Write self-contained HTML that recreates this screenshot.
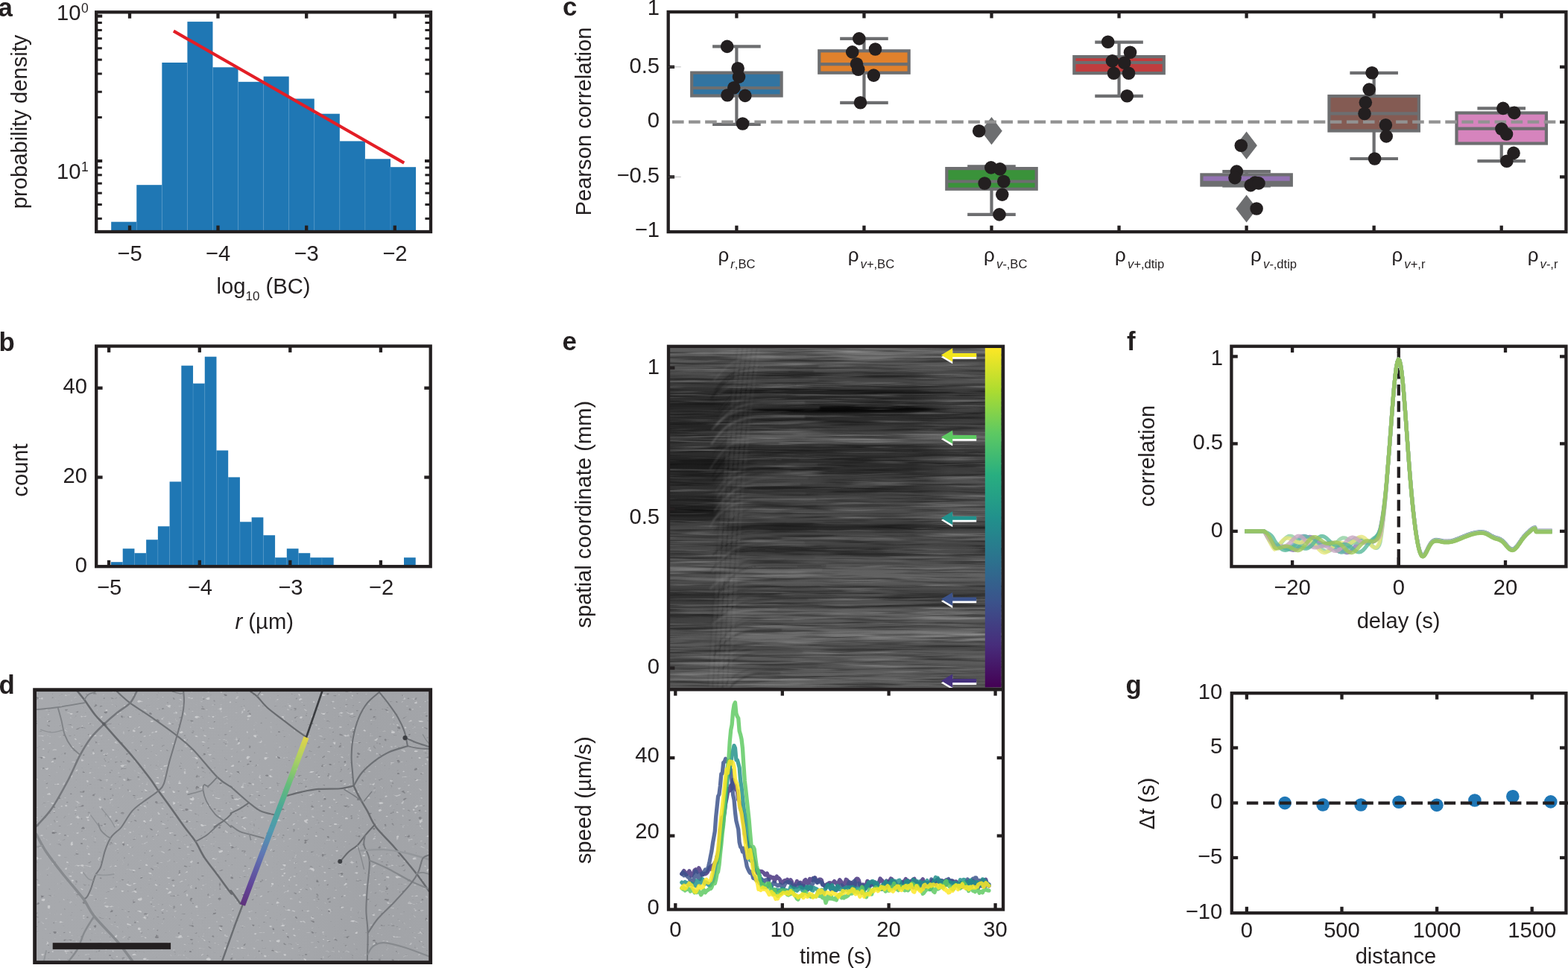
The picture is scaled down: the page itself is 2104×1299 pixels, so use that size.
<!DOCTYPE html>
<html lang="en"><head><meta charset="utf-8"><title>Figure</title>
<style>
html,body{margin:0;padding:0;background:#fff;}
body{width:2104px;height:1299px;overflow:hidden;}
svg{display:block;}
text{font-family:"Liberation Sans", sans-serif;fill:#231f20;}
</style></head>
<body>
<svg width="2104" height="1299" viewBox="0 0 2104 1299">
<defs>
<linearGradient id="dbg" gradientUnits="userSpaceOnUse" x1="50" y1="0" x2="576" y2="0">
<stop offset="0" stop-color="#a7a9ad"/><stop offset="0.6" stop-color="#a6a8ac"/><stop offset="0.85" stop-color="#a1a3a7"/><stop offset="1" stop-color="#a3a5a9"/></linearGradient>
<linearGradient id="vir" x1="0" y1="1" x2="0" y2="0">
<stop offset="0" stop-color="#440154"/><stop offset="0.125" stop-color="#472d7b"/><stop offset="0.25" stop-color="#3b528b"/>
<stop offset="0.375" stop-color="#2c728e"/><stop offset="0.5" stop-color="#21918c"/><stop offset="0.625" stop-color="#28ae80"/>
<stop offset="0.75" stop-color="#5ec962"/><stop offset="0.875" stop-color="#addc30"/><stop offset="1" stop-color="#fde725"/></linearGradient>
<linearGradient id="vird" gradientUnits="userSpaceOnUse" x1="325.5" y1="1214.5" x2="411" y2="989.5">
<stop offset="0" stop-color="#5b2a7a"/><stop offset="0.12" stop-color="#5c3f98"/><stop offset="0.3" stop-color="#5a72b4"/><stop offset="0.45" stop-color="#4a9ab0"/>
<stop offset="0.58" stop-color="#45a896"/><stop offset="0.72" stop-color="#62bf78"/><stop offset="0.86" stop-color="#a8d360"/><stop offset="1" stop-color="#e6d840"/></linearGradient>
<clipPath id="dclip"><rect x="46.6" y="925.7" width="531.1" height="365.9"/></clipPath>
<filter id="dsoft" x="-0.1" y="-0.1" width="1.2" height="1.2"><feGaussianBlur stdDeviation="0.7"/></filter>
<filter id="dsoft2" x="-0.1" y="-0.1" width="1.2" height="1.2"><feGaussianBlur stdDeviation="1.1"/></filter>
<filter id="dspk" x="0" y="0" width="1" height="1" color-interpolation-filters="sRGB">
<feTurbulence type="fractalNoise" baseFrequency="0.13 0.2" numOctaves="2" seed="23" result="n"/>
<feColorMatrix in="n" type="matrix" values="0 0 0 0 1  0 0 0 0 1  0 0 0 0 1  0 9 0 0 -6.3" result="lt"/>
<feColorMatrix in="n" type="matrix" values="0 0 0 0 0.3  0 0 0 0 0.3  0 0 0 0 0.32  0 0 -9 0 2.6" result="dk"/>
<feMerge><feMergeNode in="lt"/><feMergeNode in="dk"/></feMerge>
</filter>
<linearGradient id="kbgL" gradientUnits="userSpaceOnUse" x1="0" y1="467" x2="0" y2="922"><stop offset="0.0000" stop-color="#5c5c5c"/><stop offset="0.0286" stop-color="#5a5a5a"/><stop offset="0.0637" stop-color="#525252"/><stop offset="0.0835" stop-color="#484848"/><stop offset="0.1055" stop-color="#404040"/><stop offset="0.1209" stop-color="#303030"/><stop offset="0.1495" stop-color="#2c2c2c"/><stop offset="0.1714" stop-color="#222222"/><stop offset="0.1868" stop-color="#303030"/><stop offset="0.2044" stop-color="#2e2e2e"/><stop offset="0.2264" stop-color="#242424"/><stop offset="0.2440" stop-color="#262626"/><stop offset="0.2571" stop-color="#3a3a3a"/><stop offset="0.2747" stop-color="#3c3c3c"/><stop offset="0.2923" stop-color="#303030"/><stop offset="0.3143" stop-color="#2c2c2c"/><stop offset="0.3363" stop-color="#1e1e1e"/><stop offset="0.3516" stop-color="#1c1c1c"/><stop offset="0.3670" stop-color="#2c2c2c"/><stop offset="0.3912" stop-color="#2c2c2c"/><stop offset="0.4132" stop-color="#303030"/><stop offset="0.4352" stop-color="#2c2c2c"/><stop offset="0.4571" stop-color="#2a2a2a"/><stop offset="0.4747" stop-color="#1e1e1e"/><stop offset="0.4945" stop-color="#1e1e1e"/><stop offset="0.5121" stop-color="#3c3c3c"/><stop offset="0.5341" stop-color="#484848"/><stop offset="0.5670" stop-color="#4a4a4a"/><stop offset="0.6000" stop-color="#464646"/><stop offset="0.6330" stop-color="#4c4c4c"/><stop offset="0.6505" stop-color="#707070"/><stop offset="0.6615" stop-color="#505050"/><stop offset="0.6879" stop-color="#505050"/><stop offset="0.7143" stop-color="#3a3a3a"/><stop offset="0.7319" stop-color="#303030"/><stop offset="0.7538" stop-color="#3c3c3c"/><stop offset="0.7868" stop-color="#3c3c3c"/><stop offset="0.8154" stop-color="#444444"/><stop offset="0.8418" stop-color="#525252"/><stop offset="0.8747" stop-color="#585858"/><stop offset="0.9077" stop-color="#505050"/><stop offset="0.9407" stop-color="#545454"/><stop offset="0.9736" stop-color="#5a5a5a"/><stop offset="1.0000" stop-color="#585858"/></linearGradient>
<linearGradient id="kbg" gradientUnits="userSpaceOnUse" x1="0" y1="467" x2="0" y2="922"><stop offset="0.0000" stop-color="#666666"/><stop offset="0.0154" stop-color="#707070"/><stop offset="0.0198" stop-color="#5a5a5a"/><stop offset="0.0286" stop-color="#707070"/><stop offset="0.0374" stop-color="#3a3a3a"/><stop offset="0.0440" stop-color="#585858"/><stop offset="0.0549" stop-color="#545454"/><stop offset="0.0637" stop-color="#565656"/><stop offset="0.0725" stop-color="#424242"/><stop offset="0.0835" stop-color="#3a3a3a"/><stop offset="0.0945" stop-color="#444444"/><stop offset="0.1077" stop-color="#464646"/><stop offset="0.1187" stop-color="#3a3a3a"/><stop offset="0.1253" stop-color="#222222"/><stop offset="0.1319" stop-color="#222222"/><stop offset="0.1407" stop-color="#323232"/><stop offset="0.1484" stop-color="#262626"/><stop offset="0.1549" stop-color="#464646"/><stop offset="0.1604" stop-color="#282828"/><stop offset="0.1692" stop-color="#343434"/><stop offset="0.1802" stop-color="#222222"/><stop offset="0.1890" stop-color="#262626"/><stop offset="0.2000" stop-color="#2c2c2c"/><stop offset="0.2154" stop-color="#2e2e2e"/><stop offset="0.2308" stop-color="#383838"/><stop offset="0.2484" stop-color="#404040"/><stop offset="0.2571" stop-color="#585858"/><stop offset="0.2703" stop-color="#5e5e5e"/><stop offset="0.2791" stop-color="#545454"/><stop offset="0.2879" stop-color="#303030"/><stop offset="0.3011" stop-color="#2c2c2c"/><stop offset="0.3121" stop-color="#353535"/><stop offset="0.3231" stop-color="#3a3a3a"/><stop offset="0.3363" stop-color="#2c2c2c"/><stop offset="0.3538" stop-color="#2c2c2c"/><stop offset="0.3714" stop-color="#303030"/><stop offset="0.3802" stop-color="#404040"/><stop offset="0.3978" stop-color="#444444"/><stop offset="0.4110" stop-color="#343434"/><stop offset="0.4242" stop-color="#323232"/><stop offset="0.4374" stop-color="#444444"/><stop offset="0.4593" stop-color="#464646"/><stop offset="0.4813" stop-color="#4c4c4c"/><stop offset="0.5033" stop-color="#484848"/><stop offset="0.5165" stop-color="#3c3c3c"/><stop offset="0.5297" stop-color="#242424"/><stop offset="0.5385" stop-color="#363636"/><stop offset="0.5473" stop-color="#444444"/><stop offset="0.5648" stop-color="#505050"/><stop offset="0.5824" stop-color="#404040"/><stop offset="0.5956" stop-color="#303030"/><stop offset="0.6044" stop-color="#3c3c3c"/><stop offset="0.6176" stop-color="#505050"/><stop offset="0.6396" stop-color="#525252"/><stop offset="0.6571" stop-color="#606060"/><stop offset="0.6791" stop-color="#626262"/><stop offset="0.7011" stop-color="#525252"/><stop offset="0.7187" stop-color="#444444"/><stop offset="0.7275" stop-color="#3c3c3c"/><stop offset="0.7407" stop-color="#505050"/><stop offset="0.7560" stop-color="#505050"/><stop offset="0.7626" stop-color="#3c3c3c"/><stop offset="0.7714" stop-color="#606060"/><stop offset="0.7934" stop-color="#646464"/><stop offset="0.8110" stop-color="#545454"/><stop offset="0.8242" stop-color="#525252"/><stop offset="0.8374" stop-color="#6a6a6a"/><stop offset="0.8549" stop-color="#6c6c6c"/><stop offset="0.8681" stop-color="#5c5c5c"/><stop offset="0.8835" stop-color="#444444"/><stop offset="0.8945" stop-color="#585858"/><stop offset="0.9121" stop-color="#5e5e5e"/><stop offset="0.9297" stop-color="#5a5a5a"/><stop offset="0.9429" stop-color="#525252"/><stop offset="0.9560" stop-color="#5e5e5e"/><stop offset="0.9780" stop-color="#626262"/><stop offset="1.0000" stop-color="#606060"/></linearGradient>
<filter id="streak" x="0" y="0" width="1" height="1" color-interpolation-filters="sRGB">
<feTurbulence type="fractalNoise" baseFrequency="0.009 0.28" numOctaves="3" seed="7" result="n"/>
<feColorMatrix in="n" type="matrix" values="0 0 0 0 0  0 0 0 0 0  0 0 0 0 0  3.4 0 0 0 -1.52" result="a"/>
<feFlood flood-color="#000"/><feComposite operator="in" in2="a" result="dark"/>
<feColorMatrix in="n" type="matrix" values="0 0 0 0 1  0 0 0 0 1  0 0 0 0 1  0 -1.9 0 0 0.87" result="lt"/>
<feMerge><feMergeNode in="dark"/><feMergeNode in="lt"/></feMerge>
</filter>
<linearGradient id="kmg" gradientUnits="userSpaceOnUse" x1="897" y1="0" x2="982" y2="0"><stop offset="0" stop-color="#fff"/><stop offset="0.7" stop-color="#fff"/><stop offset="1" stop-color="#000"/></linearGradient>
<linearGradient id="krg" gradientUnits="userSpaceOnUse" x1="1225" y1="0" x2="1322" y2="0"><stop offset="0" stop-color="#fff" stop-opacity="0"/><stop offset="0.5" stop-color="#fff" stop-opacity="0.07"/><stop offset="1" stop-color="#fff" stop-opacity="0.07"/></linearGradient>
<mask id="kmask" maskUnits="userSpaceOnUse" x="897" y="400" width="90" height="560"><rect x="897" y="400" width="90" height="560" fill="url(#kmg)"/></mask>
<clipPath id="kclip"><rect x="897" y="465" width="449" height="460"/></clipPath>
<filter id="kblur" x="-0.05" y="-2" width="1.1" height="5"><feGaussianBlur stdDeviation="6 1.6"/></filter>
<filter id="kblur2" x="-0.2" y="-0.2" width="1.4" height="1.4"><feGaussianBlur stdDeviation="0.9"/></filter>
</defs>
<rect width="2104" height="1299" fill="#fff"/>
<rect x="149.2" y="297.7" width="34.07" height="13.3" fill="#1f77b4" />
<rect x="183.27" y="248.2" width="34.07" height="62.8" fill="#1f77b4" />
<rect x="217.34" y="84" width="34.07" height="227" fill="#1f77b4" />
<rect x="251.41" y="29.1" width="34.07" height="281.9" fill="#1f77b4" />
<rect x="285.48" y="90.3" width="34.07" height="220.7" fill="#1f77b4" />
<rect x="319.55" y="109.8" width="34.07" height="201.2" fill="#1f77b4" />
<rect x="353.62" y="102.6" width="34.07" height="208.4" fill="#1f77b4" />
<rect x="387.69" y="132.5" width="34.07" height="178.5" fill="#1f77b4" />
<rect x="421.76" y="152.7" width="34.07" height="158.3" fill="#1f77b4" />
<rect x="455.83" y="189.4" width="34.07" height="121.6" fill="#1f77b4" />
<rect x="489.9" y="213.3" width="34.07" height="97.7" fill="#1f77b4" />
<rect x="523.97" y="224.2" width="34.07" height="86.8" fill="#1f77b4" />
<line x1="183.27" y1="297.7" x2="183.27" y2="311" stroke="#4f94c6" stroke-width="0.6" />
<line x1="217.34" y1="248.2" x2="217.34" y2="311" stroke="#4f94c6" stroke-width="0.6" />
<line x1="251.41" y1="84" x2="251.41" y2="311" stroke="#4f94c6" stroke-width="0.6" />
<line x1="285.48" y1="90.3" x2="285.48" y2="311" stroke="#4f94c6" stroke-width="0.6" />
<line x1="319.55" y1="109.8" x2="319.55" y2="311" stroke="#4f94c6" stroke-width="0.6" />
<line x1="353.62" y1="109.8" x2="353.62" y2="311" stroke="#4f94c6" stroke-width="0.6" />
<line x1="387.69" y1="132.5" x2="387.69" y2="311" stroke="#4f94c6" stroke-width="0.6" />
<line x1="421.76" y1="152.7" x2="421.76" y2="311" stroke="#4f94c6" stroke-width="0.6" />
<line x1="455.83" y1="189.4" x2="455.83" y2="311" stroke="#4f94c6" stroke-width="0.6" />
<line x1="489.9" y1="213.3" x2="489.9" y2="311" stroke="#4f94c6" stroke-width="0.6" />
<line x1="523.97" y1="224.2" x2="523.97" y2="311" stroke="#4f94c6" stroke-width="0.6" />
<line x1="232.9" y1="41.6" x2="542.2" y2="218.6" stroke="#e31e26" stroke-width="4.2" />
<rect x="129.2" y="16.3" width="448.8" height="294.7" fill="none" stroke="#231f20" stroke-width="4.3"/>
<line x1="174" y1="311" x2="174" y2="302.6" stroke="#231f20" stroke-width="4.3" />
<line x1="174" y1="16.3" x2="174" y2="24.7" stroke="#231f20" stroke-width="4.3" />
<line x1="292.5" y1="311" x2="292.5" y2="302.6" stroke="#231f20" stroke-width="4.3" />
<line x1="292.5" y1="16.3" x2="292.5" y2="24.7" stroke="#231f20" stroke-width="4.3" />
<line x1="411.2" y1="311" x2="411.2" y2="302.6" stroke="#231f20" stroke-width="4.3" />
<line x1="411.2" y1="16.3" x2="411.2" y2="24.7" stroke="#231f20" stroke-width="4.3" />
<line x1="529.8" y1="311" x2="529.8" y2="302.6" stroke="#231f20" stroke-width="4.3" />
<line x1="529.8" y1="16.3" x2="529.8" y2="24.7" stroke="#231f20" stroke-width="4.3" />
<line x1="129.2" y1="157.48" x2="136.8" y2="157.48" stroke="#231f20" stroke-width="3" />
<line x1="578" y1="157.48" x2="570.4" y2="157.48" stroke="#231f20" stroke-width="3" />
<line x1="129.2" y1="123.25" x2="136.8" y2="123.25" stroke="#231f20" stroke-width="3" />
<line x1="578" y1="123.25" x2="570.4" y2="123.25" stroke="#231f20" stroke-width="3" />
<line x1="129.2" y1="98.96" x2="136.8" y2="98.96" stroke="#231f20" stroke-width="3" />
<line x1="578" y1="98.96" x2="570.4" y2="98.96" stroke="#231f20" stroke-width="3" />
<line x1="129.2" y1="80.12" x2="136.8" y2="80.12" stroke="#231f20" stroke-width="3" />
<line x1="578" y1="80.12" x2="570.4" y2="80.12" stroke="#231f20" stroke-width="3" />
<line x1="129.2" y1="64.73" x2="136.8" y2="64.73" stroke="#231f20" stroke-width="3" />
<line x1="578" y1="64.73" x2="570.4" y2="64.73" stroke="#231f20" stroke-width="3" />
<line x1="129.2" y1="51.71" x2="136.8" y2="51.71" stroke="#231f20" stroke-width="3" />
<line x1="578" y1="51.71" x2="570.4" y2="51.71" stroke="#231f20" stroke-width="3" />
<line x1="129.2" y1="40.44" x2="136.8" y2="40.44" stroke="#231f20" stroke-width="3" />
<line x1="578" y1="40.44" x2="570.4" y2="40.44" stroke="#231f20" stroke-width="3" />
<line x1="129.2" y1="30.5" x2="136.8" y2="30.5" stroke="#231f20" stroke-width="3" />
<line x1="578" y1="30.5" x2="570.4" y2="30.5" stroke="#231f20" stroke-width="3" />
<line x1="129.2" y1="293.36" x2="136.8" y2="293.36" stroke="#231f20" stroke-width="3" />
<line x1="578" y1="293.36" x2="570.4" y2="293.36" stroke="#231f20" stroke-width="3" />
<line x1="129.2" y1="274.52" x2="136.8" y2="274.52" stroke="#231f20" stroke-width="3" />
<line x1="578" y1="274.52" x2="570.4" y2="274.52" stroke="#231f20" stroke-width="3" />
<line x1="129.2" y1="259.13" x2="136.8" y2="259.13" stroke="#231f20" stroke-width="3" />
<line x1="578" y1="259.13" x2="570.4" y2="259.13" stroke="#231f20" stroke-width="3" />
<line x1="129.2" y1="246.11" x2="136.8" y2="246.11" stroke="#231f20" stroke-width="3" />
<line x1="578" y1="246.11" x2="570.4" y2="246.11" stroke="#231f20" stroke-width="3" />
<line x1="129.2" y1="234.84" x2="136.8" y2="234.84" stroke="#231f20" stroke-width="3" />
<line x1="578" y1="234.84" x2="570.4" y2="234.84" stroke="#231f20" stroke-width="3" />
<line x1="129.2" y1="224.9" x2="136.8" y2="224.9" stroke="#231f20" stroke-width="3" />
<line x1="578" y1="224.9" x2="570.4" y2="224.9" stroke="#231f20" stroke-width="3" />
<line x1="129.2" y1="21.6" x2="137.2" y2="21.6" stroke="#231f20" stroke-width="4" />
<line x1="578" y1="21.6" x2="570" y2="21.6" stroke="#231f20" stroke-width="4" />
<line x1="129.2" y1="216" x2="137.2" y2="216" stroke="#231f20" stroke-width="4" />
<line x1="578" y1="216" x2="570" y2="216" stroke="#231f20" stroke-width="4" />
<text x="-2.5" y="21.5" font-size="34.8" text-anchor="start" font-weight="bold" font-style="normal" >a</text>
<text x="76" y="26.8" font-size="29.2" text-anchor="start" font-weight="normal" font-style="normal" >10<tspan font-size="17.5" dy="-9.7" dx="0.6">0</tspan></text>
<text x="76" y="240.4" font-size="29.2" text-anchor="start" font-weight="normal" font-style="normal" >10<tspan font-size="17.5" dy="-10.4" dx="0.6">1</tspan></text>
<text x="174" y="349.6" font-size="29.2" text-anchor="middle" font-weight="normal" font-style="normal" >−5</text>
<text x="292.5" y="349.6" font-size="29.2" text-anchor="middle" font-weight="normal" font-style="normal" >−4</text>
<text x="411.2" y="349.6" font-size="29.2" text-anchor="middle" font-weight="normal" font-style="normal" >−3</text>
<text x="529.8" y="349.6" font-size="29.2" text-anchor="middle" font-weight="normal" font-style="normal" >−2</text>
<text x="290.6" y="394.4" font-size="29.2" text-anchor="start" font-weight="normal" font-style="normal" >log<tspan font-size="17" dy="8.6">10</tspan><tspan dy="-8.6"> (BC)</tspan></text>
<text x="36.3" y="163.4" font-size="29.2" text-anchor="middle" font-weight="normal" font-style="normal" transform="rotate(-90 36.3 163.4)" >probability density</text>
<rect x="149" y="754.21" width="15.72" height="5.99" fill="#1f77b4" />
<rect x="164.72" y="736.24" width="15.72" height="23.96" fill="#1f77b4" />
<rect x="180.44" y="742.23" width="15.72" height="17.97" fill="#1f77b4" />
<rect x="196.16" y="724.26" width="15.72" height="35.94" fill="#1f77b4" />
<rect x="211.88" y="706.29" width="15.72" height="53.91" fill="#1f77b4" />
<rect x="227.6" y="646.39" width="15.72" height="113.81" fill="#1f77b4" />
<rect x="243.32" y="490.65" width="15.72" height="269.55" fill="#1f77b4" />
<rect x="259.04" y="514.61" width="15.72" height="245.59" fill="#1f77b4" />
<rect x="274.76" y="478.67" width="15.72" height="281.53" fill="#1f77b4" />
<rect x="290.48" y="604.46" width="15.72" height="155.74" fill="#1f77b4" />
<rect x="306.2" y="640.4" width="15.72" height="119.8" fill="#1f77b4" />
<rect x="321.92" y="700.3" width="15.72" height="59.9" fill="#1f77b4" />
<rect x="337.64" y="694.31" width="15.72" height="65.89" fill="#1f77b4" />
<rect x="353.36" y="718.27" width="15.72" height="41.93" fill="#1f77b4" />
<rect x="369.08" y="748.22" width="15.72" height="11.98" fill="#1f77b4" />
<rect x="384.8" y="736.24" width="15.72" height="23.96" fill="#1f77b4" />
<rect x="400.52" y="742.23" width="15.72" height="17.97" fill="#1f77b4" />
<rect x="416.24" y="748.22" width="15.72" height="11.98" fill="#1f77b4" />
<rect x="431.96" y="748.22" width="15.72" height="11.98" fill="#1f77b4" />
<rect x="542" y="748.22" width="15.72" height="11.98" fill="#1f77b4" />
<line x1="164.72" y1="754.21" x2="164.72" y2="760.2" stroke="#4f94c6" stroke-width="0.6" />
<line x1="180.44" y1="742.23" x2="180.44" y2="760.2" stroke="#4f94c6" stroke-width="0.6" />
<line x1="196.16" y1="742.23" x2="196.16" y2="760.2" stroke="#4f94c6" stroke-width="0.6" />
<line x1="211.88" y1="724.26" x2="211.88" y2="760.2" stroke="#4f94c6" stroke-width="0.6" />
<line x1="227.6" y1="706.29" x2="227.6" y2="760.2" stroke="#4f94c6" stroke-width="0.6" />
<line x1="243.32" y1="646.39" x2="243.32" y2="760.2" stroke="#4f94c6" stroke-width="0.6" />
<line x1="259.04" y1="514.61" x2="259.04" y2="760.2" stroke="#4f94c6" stroke-width="0.6" />
<line x1="274.76" y1="514.61" x2="274.76" y2="760.2" stroke="#4f94c6" stroke-width="0.6" />
<line x1="290.48" y1="604.46" x2="290.48" y2="760.2" stroke="#4f94c6" stroke-width="0.6" />
<line x1="306.2" y1="640.4" x2="306.2" y2="760.2" stroke="#4f94c6" stroke-width="0.6" />
<line x1="321.92" y1="700.3" x2="321.92" y2="760.2" stroke="#4f94c6" stroke-width="0.6" />
<line x1="337.64" y1="700.3" x2="337.64" y2="760.2" stroke="#4f94c6" stroke-width="0.6" />
<line x1="353.36" y1="718.27" x2="353.36" y2="760.2" stroke="#4f94c6" stroke-width="0.6" />
<line x1="369.08" y1="748.22" x2="369.08" y2="760.2" stroke="#4f94c6" stroke-width="0.6" />
<line x1="384.8" y1="748.22" x2="384.8" y2="760.2" stroke="#4f94c6" stroke-width="0.6" />
<line x1="400.52" y1="742.23" x2="400.52" y2="760.2" stroke="#4f94c6" stroke-width="0.6" />
<line x1="416.24" y1="748.22" x2="416.24" y2="760.2" stroke="#4f94c6" stroke-width="0.6" />
<line x1="431.96" y1="748.22" x2="431.96" y2="760.2" stroke="#4f94c6" stroke-width="0.6" />
<rect x="129.2" y="464.5" width="448.5" height="295.7" fill="none" stroke="#231f20" stroke-width="4.3"/>
<line x1="146.1" y1="760.2" x2="146.1" y2="751.8" stroke="#231f20" stroke-width="4.3" />
<line x1="146.1" y1="464.5" x2="146.1" y2="472.9" stroke="#231f20" stroke-width="4.3" />
<line x1="267.8" y1="760.2" x2="267.8" y2="751.8" stroke="#231f20" stroke-width="4.3" />
<line x1="267.8" y1="464.5" x2="267.8" y2="472.9" stroke="#231f20" stroke-width="4.3" />
<line x1="389.3" y1="760.2" x2="389.3" y2="751.8" stroke="#231f20" stroke-width="4.3" />
<line x1="389.3" y1="464.5" x2="389.3" y2="472.9" stroke="#231f20" stroke-width="4.3" />
<line x1="510.9" y1="760.2" x2="510.9" y2="751.8" stroke="#231f20" stroke-width="4.3" />
<line x1="510.9" y1="464.5" x2="510.9" y2="472.9" stroke="#231f20" stroke-width="4.3" />
<line x1="129.2" y1="520.7" x2="137.6" y2="520.7" stroke="#231f20" stroke-width="4.3" />
<line x1="577.7" y1="520.7" x2="569.3" y2="520.7" stroke="#231f20" stroke-width="4.3" />
<line x1="129.2" y1="640.5" x2="137.6" y2="640.5" stroke="#231f20" stroke-width="4.3" />
<line x1="577.7" y1="640.5" x2="569.3" y2="640.5" stroke="#231f20" stroke-width="4.3" />
<text x="-1.5" y="470.6" font-size="34.8" text-anchor="start" font-weight="bold" font-style="normal" >b</text>
<text x="117" y="528" font-size="29.2" text-anchor="end" font-weight="normal" font-style="normal" >40</text>
<text x="117" y="647.8" font-size="29.2" text-anchor="end" font-weight="normal" font-style="normal" >20</text>
<text x="117" y="767.6" font-size="29.2" text-anchor="end" font-weight="normal" font-style="normal" >0</text>
<text x="146.7" y="798" font-size="29.2" text-anchor="middle" font-weight="normal" font-style="normal" >−5</text>
<text x="268.4" y="798" font-size="29.2" text-anchor="middle" font-weight="normal" font-style="normal" >−4</text>
<text x="389.9" y="798" font-size="29.2" text-anchor="middle" font-weight="normal" font-style="normal" >−3</text>
<text x="511.5" y="798" font-size="29.2" text-anchor="middle" font-weight="normal" font-style="normal" >−2</text>
<text x="315.5" y="844.3" font-size="29.2" text-anchor="start" font-weight="normal" font-style="normal" ><tspan font-style="italic">r</tspan> (µm)</text>
<text x="36.8" y="631" font-size="29.2" text-anchor="middle" font-weight="normal" font-style="normal" transform="rotate(-90 36.8 631)" >count</text>
<line x1="988.4" y1="62.4" x2="988.4" y2="166.9" stroke="#6d6e70" stroke-width="4.2" />
<line x1="956.1" y1="62.4" x2="1020.7" y2="62.4" stroke="#6d6e70" stroke-width="4.2" />
<line x1="956.1" y1="166.9" x2="1020.7" y2="166.9" stroke="#6d6e70" stroke-width="4.2" />
<rect x="928.2" y="97.6" width="120.4" height="30.9" fill="#3274a1" stroke="#6d6e70" stroke-width="4.2"/>
<line x1="927.1" y1="118" x2="1049.7" y2="118" stroke="#6d6e70" stroke-width="4.2" />
<line x1="1159.45" y1="51.9" x2="1159.45" y2="137.9" stroke="#6d6e70" stroke-width="4.2" />
<line x1="1127.15" y1="51.9" x2="1191.75" y2="51.9" stroke="#6d6e70" stroke-width="4.2" />
<line x1="1127.15" y1="137.9" x2="1191.75" y2="137.9" stroke="#6d6e70" stroke-width="4.2" />
<rect x="1099.25" y="68.3" width="120.4" height="29.4" fill="#e1812c" stroke="#6d6e70" stroke-width="4.2"/>
<line x1="1098.15" y1="86.2" x2="1220.75" y2="86.2" stroke="#6d6e70" stroke-width="4.2" />
<line x1="1330.5" y1="223.4" x2="1330.5" y2="287.9" stroke="#6d6e70" stroke-width="4.2" />
<line x1="1298.2" y1="223.4" x2="1362.8" y2="223.4" stroke="#6d6e70" stroke-width="4.2" />
<line x1="1298.2" y1="287.9" x2="1362.8" y2="287.9" stroke="#6d6e70" stroke-width="4.2" />
<rect x="1270.3" y="226.1" width="120.4" height="27.6" fill="#3a923a" stroke="#6d6e70" stroke-width="4.2"/>
<line x1="1269.2" y1="243.5" x2="1391.8" y2="243.5" stroke="#6d6e70" stroke-width="4.2" />
<path d="M1330.5 157.1L1344.8 175.7L1330.5 194.3L1316.2 175.7Z" fill="#6d6e70"/>
<line x1="1501.55" y1="56.6" x2="1501.55" y2="128.9" stroke="#6d6e70" stroke-width="4.2" />
<line x1="1469.25" y1="56.6" x2="1533.85" y2="56.6" stroke="#6d6e70" stroke-width="4.2" />
<line x1="1469.25" y1="128.9" x2="1533.85" y2="128.9" stroke="#6d6e70" stroke-width="4.2" />
<rect x="1441.35" y="76.1" width="120.4" height="22.1" fill="#c03d3e" stroke="#6d6e70" stroke-width="4.2"/>
<line x1="1440.25" y1="84" x2="1562.85" y2="84" stroke="#6d6e70" stroke-width="4.2" />
<line x1="1672.6" y1="230.1" x2="1672.6" y2="249.4" stroke="#6d6e70" stroke-width="4.2" />
<line x1="1640.3" y1="230.1" x2="1704.9" y2="230.1" stroke="#6d6e70" stroke-width="4.2" />
<line x1="1640.3" y1="249.4" x2="1704.9" y2="249.4" stroke="#6d6e70" stroke-width="4.2" />
<rect x="1612.4" y="234.4" width="120.4" height="14.1" fill="#9372b2" stroke="#6d6e70" stroke-width="4.2"/>
<line x1="1611.3" y1="244.8" x2="1733.9" y2="244.8" stroke="#6d6e70" stroke-width="4.2" />
<path d="M1672.6 176.6L1686.9 195.2L1672.6 213.8L1658.3 195.2Z" fill="#6d6e70"/>
<path d="M1672.6 261.4L1686.9 280L1672.6 298.6L1658.3 280Z" fill="#6d6e70"/>
<line x1="1843.65" y1="97.8" x2="1843.65" y2="213" stroke="#6d6e70" stroke-width="4.2" />
<line x1="1811.35" y1="97.8" x2="1875.95" y2="97.8" stroke="#6d6e70" stroke-width="4.2" />
<line x1="1811.35" y1="213" x2="1875.95" y2="213" stroke="#6d6e70" stroke-width="4.2" />
<rect x="1783.45" y="129" width="120.4" height="46.5" fill="#845b53" stroke="#6d6e70" stroke-width="4.2"/>
<line x1="1782.35" y1="152.3" x2="1904.95" y2="152.3" stroke="#6d6e70" stroke-width="4.2" />
<line x1="2014.7" y1="145.4" x2="2014.7" y2="216.2" stroke="#6d6e70" stroke-width="4.2" />
<line x1="1982.4" y1="145.4" x2="2047" y2="145.4" stroke="#6d6e70" stroke-width="4.2" />
<line x1="1982.4" y1="216.2" x2="2047" y2="216.2" stroke="#6d6e70" stroke-width="4.2" />
<rect x="1954.5" y="151.5" width="120.4" height="41" fill="#d684bd" stroke="#6d6e70" stroke-width="4.2"/>
<line x1="1953.4" y1="172.7" x2="2076" y2="172.7" stroke="#6d6e70" stroke-width="4.2" />
<line x1="902" y1="163.7" x2="2092" y2="163.7" stroke="#929292" stroke-width="4.3" stroke-dasharray="15.6 6.47"/>
<circle cx="975.7" cy="62.4" r="8.8" fill="#231f20"/>
<circle cx="990.1" cy="91.8" r="8.8" fill="#231f20"/>
<circle cx="991.5" cy="103.1" r="8.8" fill="#231f20"/>
<circle cx="984.8" cy="117.8" r="8.8" fill="#231f20"/>
<circle cx="976" cy="127.8" r="8.8" fill="#231f20"/>
<circle cx="999.8" cy="128.4" r="8.8" fill="#231f20"/>
<circle cx="996.5" cy="166" r="8.8" fill="#231f20"/>
<circle cx="1152.8" cy="51.9" r="8.8" fill="#231f20"/>
<circle cx="1143.7" cy="69.9" r="8.8" fill="#231f20"/>
<circle cx="1174.5" cy="66" r="8.8" fill="#231f20"/>
<circle cx="1149.5" cy="85.7" r="8.8" fill="#231f20"/>
<circle cx="1151.7" cy="93.2" r="8.8" fill="#231f20"/>
<circle cx="1172.3" cy="101.1" r="8.8" fill="#231f20"/>
<circle cx="1154.5" cy="137.7" r="8.8" fill="#231f20"/>
<circle cx="1313.7" cy="175.8" r="8.8" fill="#231f20"/>
<circle cx="1329.8" cy="224.9" r="8.8" fill="#231f20"/>
<circle cx="1341.8" cy="226.9" r="8.8" fill="#231f20"/>
<circle cx="1321.2" cy="246" r="8.8" fill="#231f20"/>
<circle cx="1346.8" cy="243.5" r="8.8" fill="#231f20"/>
<circle cx="1344.8" cy="261.1" r="8.8" fill="#231f20"/>
<circle cx="1341" cy="287.9" r="8.8" fill="#231f20"/>
<circle cx="1486.7" cy="56.2" r="8.8" fill="#231f20"/>
<circle cx="1516.5" cy="70.2" r="8.8" fill="#231f20"/>
<circle cx="1492.5" cy="81.9" r="8.8" fill="#231f20"/>
<circle cx="1508.7" cy="84.3" r="8.8" fill="#231f20"/>
<circle cx="1494.5" cy="98.2" r="8.8" fill="#231f20"/>
<circle cx="1514.5" cy="98.2" r="8.8" fill="#231f20"/>
<circle cx="1512.3" cy="128.8" r="8.8" fill="#231f20"/>
<circle cx="1665.3" cy="195.2" r="8.8" fill="#231f20"/>
<circle cx="1659.4" cy="230.1" r="8.8" fill="#231f20"/>
<circle cx="1657" cy="238.6" r="8.8" fill="#231f20"/>
<circle cx="1678.2" cy="248.6" r="8.8" fill="#231f20"/>
<circle cx="1684" cy="245" r="8.8" fill="#231f20"/>
<circle cx="1689" cy="245.9" r="8.8" fill="#231f20"/>
<circle cx="1686.1" cy="280" r="8.8" fill="#231f20"/>
<circle cx="1841" cy="97.8" r="8.8" fill="#231f20"/>
<circle cx="1837.2" cy="120.1" r="8.8" fill="#231f20"/>
<circle cx="1832.3" cy="137.6" r="8.8" fill="#231f20"/>
<circle cx="1831" cy="152.5" r="8.8" fill="#231f20"/>
<circle cx="1859.4" cy="167.7" r="8.8" fill="#231f20"/>
<circle cx="1860.2" cy="182.9" r="8.8" fill="#231f20"/>
<circle cx="1844.6" cy="213" r="8.8" fill="#231f20"/>
<circle cx="2016.9" cy="145.4" r="8.8" fill="#231f20"/>
<circle cx="2031.8" cy="151.4" r="8.8" fill="#231f20"/>
<circle cx="2014.9" cy="173" r="8.8" fill="#231f20"/>
<circle cx="2021.5" cy="180" r="8.8" fill="#231f20"/>
<circle cx="2031" cy="205.4" r="8.8" fill="#231f20"/>
<circle cx="2021.8" cy="216.2" r="8.8" fill="#231f20"/>
<rect x="896.7" y="16" width="1204.7" height="295.1" fill="none" stroke="#231f20" stroke-width="4.3"/>
<line x1="988.4" y1="311.1" x2="988.4" y2="302.7" stroke="#231f20" stroke-width="4.3" />
<line x1="988.4" y1="16" x2="988.4" y2="24.4" stroke="#231f20" stroke-width="4.3" />
<line x1="1159.45" y1="311.1" x2="1159.45" y2="302.7" stroke="#231f20" stroke-width="4.3" />
<line x1="1159.45" y1="16" x2="1159.45" y2="24.4" stroke="#231f20" stroke-width="4.3" />
<line x1="1330.5" y1="311.1" x2="1330.5" y2="302.7" stroke="#231f20" stroke-width="4.3" />
<line x1="1330.5" y1="16" x2="1330.5" y2="24.4" stroke="#231f20" stroke-width="4.3" />
<line x1="1501.55" y1="311.1" x2="1501.55" y2="302.7" stroke="#231f20" stroke-width="4.3" />
<line x1="1501.55" y1="16" x2="1501.55" y2="24.4" stroke="#231f20" stroke-width="4.3" />
<line x1="1672.6" y1="311.1" x2="1672.6" y2="302.7" stroke="#231f20" stroke-width="4.3" />
<line x1="1672.6" y1="16" x2="1672.6" y2="24.4" stroke="#231f20" stroke-width="4.3" />
<line x1="1843.65" y1="311.1" x2="1843.65" y2="302.7" stroke="#231f20" stroke-width="4.3" />
<line x1="1843.65" y1="16" x2="1843.65" y2="24.4" stroke="#231f20" stroke-width="4.3" />
<line x1="2014.7" y1="311.1" x2="2014.7" y2="302.7" stroke="#231f20" stroke-width="4.3" />
<line x1="2014.7" y1="16" x2="2014.7" y2="24.4" stroke="#231f20" stroke-width="4.3" />
<line x1="896.7" y1="89.8" x2="905.1" y2="89.8" stroke="#231f20" stroke-width="4.3" />
<line x1="2101.4" y1="89.8" x2="2093" y2="89.8" stroke="#231f20" stroke-width="4.3" />
<line x1="896.7" y1="237.4" x2="905.1" y2="237.4" stroke="#231f20" stroke-width="4.3" />
<line x1="2101.4" y1="237.4" x2="2093" y2="237.4" stroke="#231f20" stroke-width="4.3" />
<line x1="2101.4" y1="163.7" x2="2093" y2="163.7" stroke="#231f20" stroke-width="4.3" />
<line x1="896.7" y1="89.8" x2="913.7" y2="89.8" stroke="#777" stroke-width="0.5" />
<line x1="896.7" y1="237.4" x2="913.7" y2="237.4" stroke="#777" stroke-width="0.5" />
<text x="755" y="21.4" font-size="34.8" text-anchor="start" font-weight="bold" font-style="normal" >c</text>
<text x="885" y="20.1" font-size="29.2" text-anchor="end" font-weight="normal" font-style="normal" >1</text>
<text x="885" y="97.5" font-size="29.2" text-anchor="end" font-weight="normal" font-style="normal" >0.5</text>
<text x="885" y="171.2" font-size="29.2" text-anchor="end" font-weight="normal" font-style="normal" >0</text>
<text x="885" y="245.2" font-size="29.2" text-anchor="end" font-weight="normal" font-style="normal" >−0.5</text>
<text x="885" y="317.5" font-size="29.2" text-anchor="end" font-weight="normal" font-style="normal" >−1</text>
<text x="793" y="163" font-size="29.2" text-anchor="middle" font-weight="normal" font-style="normal" transform="rotate(-90 793 163)" >Pearson correlation</text>
<text x="963.5" y="351.4" font-size="26" text-anchor="start" font-weight="normal" font-style="normal" >ρ<tspan font-size="16.6" dy="8.4" dx="2.0" font-style="italic">r</tspan><tspan font-size="16.6">,BC</tspan></text>
<text x="1137.7" y="351.4" font-size="26" text-anchor="start" font-weight="normal" font-style="normal" >ρ<tspan font-size="16.6" dy="8.4" dx="2.0" font-style="italic">v+</tspan><tspan font-size="16.6">,BC</tspan></text>
<text x="1320.1" y="351.4" font-size="26" text-anchor="start" font-weight="normal" font-style="normal" >ρ<tspan font-size="16.6" dy="8.4" dx="2.0" font-style="italic">v-</tspan><tspan font-size="16.6">,BC</tspan></text>
<text x="1496.1" y="351.4" font-size="26" text-anchor="start" font-weight="normal" font-style="normal" >ρ<tspan font-size="16.6" dy="8.4" dx="2.0" font-style="italic">v+</tspan><tspan font-size="16.6">,dtip</tspan></text>
<text x="1678.1" y="351.4" font-size="26" text-anchor="start" font-weight="normal" font-style="normal" >ρ<tspan font-size="16.6" dy="8.4" dx="2.0" font-style="italic">v-</tspan><tspan font-size="16.6">,dtip</tspan></text>
<text x="1867.5" y="351.4" font-size="26" text-anchor="start" font-weight="normal" font-style="normal" >ρ<tspan font-size="16.6" dy="8.4" dx="2.0" font-style="italic">v+</tspan><tspan font-size="16.6">,r</tspan></text>
<text x="2049.7" y="351.4" font-size="26" text-anchor="start" font-weight="normal" font-style="normal" >ρ<tspan font-size="16.6" dy="8.4" dx="2.0" font-style="italic">v-</tspan><tspan font-size="16.6">,r</tspan></text>
<rect x="46.6" y="925.7" width="531.1" height="365.9" fill="url(#dbg)" />
<rect x="46.6" y="925.7" width="531.1" height="365.9" fill="#fff" filter="url(#dspk)" opacity="0.4"/>
<g clip-path="url(#dclip)">
<g fill="none" stroke-linecap="round" stroke-linejoin="round" filter="url(#dsoft)">
<path d="M104.36 928.04C105.82 929.87 109.23 933.77 113.13 939.01C117.03 944.26 123.37 954.01 127.76 959.49C132.15 964.98 134.58 966.56 139.46 971.92C144.33 977.29 150.43 984.23 157.01 991.67C163.59 999.1 171.64 1007.76 178.95 1016.53C186.26 1025.31 195.28 1036.89 200.89 1044.32C206.5 1051.76 207.71 1054.32 212.59 1061.14C217.47 1067.97 224.29 1077.14 230.14 1085.28C235.99 1093.42 242.33 1102.69 247.69 1110C253.06 1117.3 257.93 1122.41 262.32 1129.13C266.71 1135.86 269.15 1142.91 274.02 1150.34C278.9 1157.78 285.58 1165.7 291.57 1173.74C297.57 1181.79 306.93 1194.95 310 1198.61C313.07 1202.26 307.93 1193.37 310 1195.68C312.07 1198 320.36 1209.7 322.43 1212.5" stroke="#676a6e" stroke-width="2.56"/>
<path d="M157.01 928.04C159.94 930.6 167.25 937.92 174.56 943.4C181.88 948.89 190.41 953.64 200.89 960.95C211.37 968.27 227.7 979.72 237.46 987.28C247.21 994.84 250.37 997.03 259.39 1006.3C268.41 1015.56 283.14 1034.57 291.57 1042.86C300.01 1051.15 306.93 1053.83 310 1056.02C313.07 1058.22 307.81 1054.07 310 1056.02C312.19 1057.97 319.14 1064.19 323.16 1067.73C327.19 1071.26 329.75 1073.82 334.13 1077.23C338.52 1080.65 343.88 1085.52 349.49 1088.2C355.1 1090.88 364.73 1092.47 367.77 1093.32" stroke="#6e7175" stroke-width="2.16"/>
<path d="M48.78 1108.68C52.19 1104.78 62.18 1095.52 69.25 1085.28C76.32 1075.04 84.85 1059.19 91.19 1047.25C97.53 1035.3 102.16 1023.12 107.28 1013.61C112.4 1004.1 116.54 997.15 121.91 990.21C127.27 983.26 133.61 977.53 139.46 971.92C145.31 966.32 151.16 961.32 157.01 956.57C162.86 951.81 170.17 948.16 174.56 943.4C178.95 938.65 181.88 930.6 183.34 928.04" stroke="#74777b" stroke-width="2.56"/>
<path d="M246.23 928.04C246.35 930.36 247.21 936.7 246.96 941.94C246.72 947.18 246.35 951.93 244.77 959.49C243.18 967.05 240.38 976.8 237.46 987.28C234.53 997.76 230.14 1011.66 227.22 1022.38C224.29 1033.11 222.34 1045.18 219.9 1051.64C217.47 1058.1 216.98 1057.24 212.59 1061.14C208.2 1065.04 199.43 1070.53 193.58 1075.04C187.73 1079.55 182.61 1082.38 177.49 1088.2C172.37 1094.03 166.52 1105.25 162.86 1110C159.2 1114.75 157.99 1114.24 155.55 1116.7C153.11 1119.16 150.67 1120.6 148.23 1124.75C145.8 1128.89 143.12 1135.11 140.92 1141.57C138.73 1148.03 137.26 1157.9 135.07 1163.51C132.88 1169.11 129.95 1170.33 127.76 1175.21C125.56 1180.08 123.86 1187.88 121.91 1192.76C119.96 1197.63 117.76 1202.26 116.06 1204.46C114.35 1206.65 112.4 1205.68 111.67 1205.92" stroke="#74777b" stroke-width="2.03"/>
<path d="M48.78 952.18C53.41 951.69 65.84 950.76 76.57 949.25C87.29 947.74 107.04 944.13 113.13 943.11" stroke="#7f8286" stroke-width="1.89"/>
<path d="M78.03 950.72C78.76 953.4 80.95 960.95 82.42 966.8C83.88 972.65 84.61 979.97 86.8 985.82C89 991.67 92.17 997.4 95.58 1001.91C98.99 1006.42 105.33 1011.05 107.28 1012.88" stroke="#7f8286" stroke-width="1.89"/>
<path d="M54.63 979.24C57.06 979.85 64.38 982.77 69.25 982.89C74.13 983.01 81.44 980.46 83.88 979.97" stroke="#8f9296" stroke-width="1.35"/>
<path d="M113.13 939.01C114.11 937.8 116.54 933.41 118.98 931.7C121.42 929.99 126.3 929.26 127.76 928.78" stroke="#7f8286" stroke-width="1.62"/>
<path d="M231.6 928.04C233.31 928.53 239.41 930.6 241.84 930.97C244.28 931.34 245.5 930.36 246.23 930.24" stroke="#7f8286" stroke-width="1.35"/>
<path d="M291.57 1042.86C289.62 1044.81 282.8 1052.86 279.87 1054.56C276.95 1056.27 275.24 1052.12 274.02 1053.1C272.8 1054.07 272.07 1056.76 272.56 1060.41C273.05 1064.07 274.26 1069.68 276.95 1075.04C279.63 1080.4 284.75 1088.2 288.65 1092.59C292.55 1096.98 296.79 1098.47 300.35 1101.37C303.91 1104.27 308.39 1108.56 310 1110" stroke="#797c80" stroke-width="1.76"/>
<path d="M252.08 1066.26C253.54 1065.9 257.44 1065.04 260.86 1064.07C264.27 1063.09 270.61 1061.02 272.56 1060.41" stroke="#84878b" stroke-width="1.62"/>
<path d="M287.18 1110C289.38 1108.56 296.55 1104.27 300.35 1101.37C304.15 1098.47 308.39 1094.3 310 1092.59C311.61 1090.88 308.05 1092.35 310 1091.13C311.95 1089.91 317.68 1087.59 321.7 1085.28C325.72 1082.96 332.06 1078.57 334.13 1077.23" stroke="#6e7175" stroke-width="2.03"/>
<path d="M121.91 1094.05L133.61 1110" stroke="#8f9296" stroke-width="1.35"/>
<path d="M136.53 1085.28C138.48 1087.71 145.31 1095.78 148.23 1099.9C151.16 1104.02 153.11 1108.31 154.09 1110" stroke="#8f9296" stroke-width="1.35"/>
<path d="M336.33 928.04C337.79 929.14 341.45 931.09 345.1 934.63C348.76 938.16 352.66 944.13 358.27 949.25C363.87 954.37 372.16 960.22 378.74 965.34C385.33 970.46 392.64 976.19 397.76 979.97C402.88 983.75 407.51 986.67 409.46 988.01" stroke="#676a6e" stroke-width="2.16"/>
<path d="M349.49 928.04L345.1 934.63" stroke="#797c80" stroke-width="1.62"/>
<path d="M508.92 928.78C506.24 931.21 497.46 937.55 492.83 943.4C488.2 949.25 484.3 956.08 481.13 963.88C477.96 971.68 475.4 981.67 473.81 990.21C472.23 998.74 471.74 1007.27 471.62 1015.07C471.5 1022.87 472.6 1030.43 473.08 1037.01C473.57 1043.59 474.3 1051.64 474.55 1054.56" stroke="#6d7074" stroke-width="2.03"/>
<path d="M508.92 928.78C510.87 931.21 516.47 937.8 520.62 943.4C524.76 949.01 530.13 956.08 533.78 962.42C537.44 968.75 540.36 974.97 542.56 981.43C544.75 987.89 546.21 997.89 546.95 1001.18" stroke="#6d7074" stroke-width="2.03"/>
<path d="M544.02 990.21C546.95 991.43 556.33 995.57 561.57 997.52C566.81 999.47 573.15 1001.18 575.47 1001.91" stroke="#6d7074" stroke-width="2.03"/>
<path d="M546.95 1001.18C549.38 1001.66 556.82 1003.49 561.57 1004.1C566.33 1004.71 573.15 1004.71 575.47 1004.83" stroke="#74777b" stroke-width="1.89"/>
<path d="M474.55 1054.56C476.37 1051.64 480.76 1042.62 485.52 1037.01C490.27 1031.4 496.97 1025.55 503.07 1020.92C509.16 1016.29 514.77 1012.51 522.08 1009.22C529.39 1005.93 542.8 1002.52 546.95 1001.18" stroke="#6d7074" stroke-width="2.16"/>
<path d="M385.33 1067.73C388.62 1066.87 398.12 1064.07 405.07 1062.61C412.02 1061.14 418.48 1059.68 427.01 1058.95C435.54 1058.22 448.34 1058.95 456.26 1058.22C464.19 1057.49 471.5 1055.17 474.55 1054.56" stroke="#676a6e" stroke-width="2.16"/>
<path d="M474.55 1054.56C475.89 1057.24 479.54 1065.04 482.59 1070.65C485.64 1076.26 489.17 1081.64 492.83 1088.2C496.49 1094.76 498.44 1101.83 504.53 1110C510.62 1118.16 520.37 1126.8 529.39 1137.18C538.41 1147.56 550.97 1162.53 558.65 1172.28C566.33 1182.03 572.66 1191.78 575.47 1195.68" stroke="#676a6e" stroke-width="2.43"/>
<path d="M462.11 1059.68C464.31 1061.02 471.38 1065.17 475.28 1067.73C479.18 1070.29 483.81 1073.82 485.52 1075.04" stroke="#797c80" stroke-width="1.62"/>
<path d="M498.68 1062.61L488.44 1075.04" stroke="#797c80" stroke-width="1.49"/>
<path d="M567.42 985.82C568.15 987.04 570.47 991.18 571.81 993.13C573.15 995.08 574.86 996.79 575.47 997.52" stroke="#84878b" stroke-width="1.22"/>
<path d="M48.78 1119.63C50.97 1123.53 56.09 1134.25 61.94 1143.03C67.79 1151.8 75.59 1161.8 83.88 1172.28C92.17 1182.76 104.6 1196.41 111.67 1205.92C118.74 1215.43 118.74 1219.82 126.3 1229.32C133.85 1238.83 148.48 1252.97 157.01 1262.96C165.54 1272.96 174.07 1284.9 177.49 1289.29" stroke="#878a8e" stroke-width="3.51"/>
<path d="M126.3 1229.32C124.1 1232.98 116.79 1243.95 113.13 1251.26C109.47 1258.58 107.77 1266.86 104.36 1273.2C100.94 1279.54 94.6 1286.61 92.65 1289.29" stroke="#878a8e" stroke-width="2.43"/>
<path d="M132.15 1105C132.63 1106.46 133.36 1111.09 135.07 1113.78C136.78 1116.46 140.19 1119.26 142.38 1121.09C144.58 1122.92 147.26 1124.14 148.23 1124.75" stroke="#84878b" stroke-width="1.76"/>
<path d="M127.76 1173.74C130.2 1173.87 138.24 1174.6 142.38 1174.47C146.53 1174.35 150.92 1173.26 152.62 1173.01" stroke="#94979b" stroke-width="1.76"/>
<path d="M111.67 1170.82C112.89 1172.28 116.79 1177.89 118.98 1179.59C121.18 1181.3 123.86 1180.81 124.83 1181.06" stroke="#94979b" stroke-width="1.62"/>
<path d="M294.5 1105C291.57 1107.68 282.31 1117.07 276.95 1121.09C271.58 1125.11 264.76 1127.79 262.32 1129.13" stroke="#74777b" stroke-width="1.89"/>
<path d="M59.01 1289.29L61.94 1276.13" stroke="#94979b" stroke-width="2.16"/>
<path d="M48.78 1136.45L56.09 1134.98" stroke="#94979b" stroke-width="2.16"/>
<path d="M310 1107.93C311.95 1109.27 317.56 1114.02 321.7 1115.97C325.85 1117.92 329.5 1118.16 334.86 1119.63C340.23 1121.09 350.71 1123.89 353.88 1124.75" stroke="#797c80" stroke-width="1.89"/>
<path d="M334.86 1119.63L336.33 1126.94" stroke="#84878b" stroke-width="1.62"/>
<path d="M503.07 1106.46C500.87 1108.9 493.8 1116.46 489.9 1121.09C486 1125.72 483.32 1130.6 479.67 1134.25C476.01 1137.91 471.62 1139.62 467.96 1143.03C464.31 1146.44 459.43 1152.78 457.73 1154.73" stroke="#676a6e" stroke-width="2.03"/>
<path d="M489.9 1121.09C489.66 1123.28 487.47 1128.65 488.44 1134.25C489.42 1139.86 495.02 1144.98 495.75 1154.73C496.49 1164.48 493.56 1181.54 492.83 1192.76C492.1 1203.97 491.24 1212.26 491.37 1222.01C491.49 1231.76 493.32 1240.05 493.56 1251.26C493.8 1262.48 492.95 1282.95 492.83 1289.29" stroke="#74777b" stroke-width="2.03"/>
<path d="M479.67 1134.25C480.4 1136.69 482.59 1143.52 484.05 1148.88C485.52 1154.24 487.71 1163.51 488.44 1166.43" stroke="#84878b" stroke-width="1.35"/>
<path d="M484.05 1141.57C489.17 1141.32 504.77 1139.62 514.77 1140.1C524.76 1140.59 533.9 1142.3 544.02 1144.49C554.14 1146.68 570.23 1151.8 575.47 1153.27" stroke="#94979b" stroke-width="2.43"/>
<path d="M495.75 1154.73C500.14 1156.68 512.82 1161.8 522.08 1166.43C531.34 1171.06 542.44 1178.13 551.33 1182.52C560.23 1186.91 571.45 1191.05 575.47 1192.76" stroke="#84878b" stroke-width="2.16"/>
<path d="M575.47 1147.42C574.13 1148.15 569.74 1148.15 567.42 1151.8C565.11 1155.46 564.01 1163.99 561.57 1169.36C559.13 1174.72 558.16 1177.16 552.8 1183.98C547.43 1190.81 536.95 1202.26 529.39 1210.31C521.84 1218.35 513.31 1225.42 507.46 1232.25C501.6 1239.07 496.49 1248.09 494.29 1251.26" stroke="#74777b" stroke-width="2.03"/>
<path d="M493.56 1280.52C494.66 1278.81 496.61 1272.84 500.14 1270.28C503.68 1267.72 507.46 1264.91 514.77 1265.16C522.08 1265.4 533.9 1268.69 544.02 1271.74C554.14 1274.79 570.23 1281.49 575.47 1283.44" stroke="#878a8e" stroke-width="2.16"/>
<path d="M558.65 1172.28C560.11 1172.04 564.62 1170.7 567.42 1170.82C570.23 1170.94 574.13 1172.65 575.47 1173.01" stroke="#84878b" stroke-width="1.76"/>
<path d="M432.2 928L411 989.5" stroke="#3a3c40" stroke-width="2.6"/>
<path d="M325.5 1214.5L315.8 1240L298 1290" stroke="#6a6d71" stroke-width="2.4"/>
</g>
<circle cx="543.58" cy="990.21" r="3.1" fill="#3c3e42"/>
<circle cx="456.26" cy="1155.9" r="3.0" fill="#3c3e42"/>
<circle cx="139.46" cy="971.48" r="2.2" fill="#55585c" opacity="0.8"/>
<line x1="325.5" y1="1214.5" x2="411" y2="989.5" stroke="url(#vird)" stroke-width="7.4" opacity="0.93"/>
</g>
<rect x="70.7" y="1265.2" width="158.4" height="8.7" fill="#231f20" />
<rect x="46.6" y="925.7" width="531.1" height="365.9" fill="none" stroke="#231f20" stroke-width="4.8"/>
<text x="-1.5" y="930.8" font-size="34.8" text-anchor="start" font-weight="bold" font-style="normal" >d</text>
<rect x="897" y="464.8" width="449.1" height="460.4" fill="url(#kbg)" />
<g clip-path="url(#kclip)">
<rect x="897" y="465" width="85" height="460" fill="url(#kbgL)" mask="url(#kmask)"/>
<rect x="1225" y="500" width="97" height="225" fill="url(#krg)"/>
<g filter="url(#kblur)">
<ellipse cx="1127.5" cy="549.5" rx="127.5" ry="4.5" fill="#000000" opacity="0.7"/>
<ellipse cx="1295" cy="549" rx="25" ry="5" fill="#505050" opacity="0.5"/>
<ellipse cx="1250" cy="738" rx="70" ry="5" fill="#606060" opacity="0.5"/>
<ellipse cx="1210" cy="852" rx="110" ry="5" fill="#909090" opacity="0.3"/>
<ellipse cx="1250" cy="803" rx="70" ry="3" fill="#202020" opacity="0.3"/>
<ellipse cx="1160" cy="608" rx="160" ry="3" fill="#1c1c1c" opacity="0.3"/>
</g>
<rect x="897" y="464.8" width="449.1" height="460.4" fill="#808080" filter="url(#streak)" opacity="0.36"/>
<g fill="none" filter="url(#kblur2)">
<path d="M957.18 511.67C971.18 493.39 983.18 480.43 1017.18 478.43L1082.39 477.93" stroke="#808080" stroke-width="2.25" opacity="0.21"/>
<path d="M959.71 523.19C973.71 506.07 985.71 494.05 1019.71 492.05L1098.55 491.55" stroke="#141414" stroke-width="2.05" opacity="0.3"/>
<path d="M954.11 534.95C968.11 515.21 980.11 501.06 1014.11 499.06L1091.89 498.56" stroke="#141414" stroke-width="2.14" opacity="0.28"/>
<path d="M962.62 529.62C976.62 518.74 988.62 511.83 1022.62 509.83L1097.65 509.33" stroke="#808080" stroke-width="2.6" opacity="0.13"/>
<path d="M964.88 551.67C978.88 532.61 990.88 519.02 1024.88 517.02L1067.65 516.52" stroke="#1a1a1a" stroke-width="2.86" opacity="0.25"/>
<path d="M965.1 560.25C979.1 543.51 991.1 531.81 1025.1 529.81L1055.19 529.31" stroke="#9a9a9a" stroke-width="1.44" opacity="0.14"/>
<path d="M960.77 570.61C974.77 553.99 986.77 542.39 1020.77 540.39L1080.18 539.89" stroke="#9a9a9a" stroke-width="2.7" opacity="0.2"/>
<path d="M955.25 576.82C969.25 560.64 981.25 549.4 1015.25 547.4L1099.95 546.9" stroke="#9a9a9a" stroke-width="2.87" opacity="0.24"/>
<path d="M954.28 596.54C968.28 576.3 980.28 561.75 1014.28 559.75L1079.84 559.25" stroke="#9a9a9a" stroke-width="2.83" opacity="0.29"/>
<path d="M963.64 591.59C977.64 578.44 989.64 569.68 1023.64 567.68L1073.74 567.18" stroke="#808080" stroke-width="1.42" opacity="0.17"/>
<path d="M956.82 608.37C970.82 591.02 982.82 578.83 1016.82 576.83L1060.57 576.33" stroke="#0c0c0c" stroke-width="1.47" opacity="0.19"/>
<path d="M952.62 629.65C966.62 606.31 978.62 589.21 1012.62 587.21L1081.05 586.71" stroke="#808080" stroke-width="1.88" opacity="0.26"/>
<path d="M955.91 639.32C969.91 615.22 981.91 597.51 1015.91 595.51L1045.39 595.01" stroke="#141414" stroke-width="1.76" opacity="0.3"/>
<path d="M954.76 624.28C968.76 613.89 980.76 607.4 1014.76 605.4L1088.28 604.9" stroke="#1a1a1a" stroke-width="1.67" opacity="0.17"/>
<path d="M957.04 644.79C971.04 629.66 983.04 619.28 1017.04 617.28L1072.23 616.78" stroke="#141414" stroke-width="1.88" opacity="0.28"/>
<path d="M960.34 660.15C974.34 640.33 986.34 626.12 1020.34 624.12L1096.81 623.62" stroke="#808080" stroke-width="2.95" opacity="0.14"/>
<path d="M962.02 667.99C976.02 648.32 988.02 634.23 1022.02 632.23L1061.21 631.73" stroke="#9a9a9a" stroke-width="1.66" opacity="0.2"/>
<path d="M965.82 682.31C979.82 660.27 991.82 644.23 1025.82 642.23L1084.25 641.73" stroke="#9a9a9a" stroke-width="2.31" opacity="0.12"/>
<path d="M958.53 685.73C972.53 666.16 984.53 652.16 1018.53 650.16L1074.27 649.66" stroke="#9a9a9a" stroke-width="1.7" opacity="0.23"/>
<path d="M952.3 707.67C966.3 683.07 978.3 664.94 1012.3 662.94L1081.49 662.44" stroke="#9a9a9a" stroke-width="2.02" opacity="0.17"/>
<path d="M956.38 699.11C970.38 683.61 982.38 672.92 1016.38 670.92L1095.11 670.42" stroke="#9a9a9a" stroke-width="1.68" opacity="0.27"/>
<path d="M965.6 719.99C979.6 697.57 991.6 681.23 1025.6 679.23L1096.27 678.73" stroke="#141414" stroke-width="1.6" opacity="0.18"/>
<path d="M958.09 712.88C972.09 700.09 984.09 691.63 1018.09 689.63L1063.36 689.13" stroke="#0c0c0c" stroke-width="1.78" opacity="0.14"/>
<path d="M963.98 733.08C977.98 716.43 989.98 704.8 1023.98 702.8L1055.26 702.3" stroke="#141414" stroke-width="2.54" opacity="0.13"/>
<path d="M963.02 736.39C977.02 722.32 989.02 712.81 1023.02 710.81L1096.47 710.31" stroke="#0c0c0c" stroke-width="1.54" opacity="0.22"/>
<path d="M955.9 745.17C969.9 732.44 981.9 724.03 1015.9 722.03L1049.08 721.53" stroke="#0c0c0c" stroke-width="1.82" opacity="0.27"/>
<path d="M955.8 768.58C969.8 746.45 981.8 730.35 1015.8 728.35L1079.78 727.85" stroke="#9a9a9a" stroke-width="1.72" opacity="0.23"/>
<path d="M954.79 765.98C968.79 749.72 980.79 738.41 1014.79 736.41L1109.08 735.91" stroke="#1a1a1a" stroke-width="2.78" opacity="0.29"/>
<path d="M964.98 793.01C978.98 768.48 990.98 750.41 1024.98 748.41L1092.74 747.91" stroke="#141414" stroke-width="2.02" opacity="0.13"/>
<path d="M959.61 804.86C973.61 780.13 985.61 761.89 1019.61 759.89L1107.97 759.39" stroke="#141414" stroke-width="2.74" opacity="0.28"/>
<path d="M952.49 790.57C966.49 776.9 978.49 767.72 1012.49 765.72L1102.98 765.22" stroke="#808080" stroke-width="2.81" opacity="0.29"/>
<path d="M962.43 796.43C976.43 786.33 988.43 780.06 1022.43 778.06L1041.39 777.56" stroke="#141414" stroke-width="1.63" opacity="0.21"/>
<path d="M964.78 806.91C978.78 796.19 990.78 789.42 1024.78 787.42L1100.32 786.92" stroke="#0c0c0c" stroke-width="1.65" opacity="0.18"/>
<path d="M956.93 836.57C970.93 814.62 982.93 798.66 1016.93 796.66L1048.34 796.16" stroke="#141414" stroke-width="2.8" opacity="0.14"/>
<path d="M964.45 830.5C978.45 816.39 990.45 806.84 1024.45 804.84L1084 804.34" stroke="#141414" stroke-width="1.21" opacity="0.27"/>
<path d="M955.8 837.57C969.8 826.9 981.8 820.18 1015.8 818.18L1043.57 817.68" stroke="#9a9a9a" stroke-width="2.14" opacity="0.23"/>
<path d="M964 865.49C978 842.96 990 826.54 1024 824.54L1073.8 824.04" stroke="#141414" stroke-width="1.29" opacity="0.13"/>
<path d="M959.22 870.35C973.22 849.48 985.22 834.4 1019.22 832.4L1064.59 831.9" stroke="#1a1a1a" stroke-width="1.77" opacity="0.18"/>
<path d="M957.05 880.11C971.05 861.17 983.05 847.68 1017.05 845.68L1048.93 845.18" stroke="#141414" stroke-width="1.97" opacity="0.3"/>
<path d="M963.13 889.67C977.13 868.63 989.13 853.42 1023.13 851.42L1082.31 850.92" stroke="#808080" stroke-width="1.87" opacity="0.15"/>
<path d="M963.22 894.34C977.22 878.59 989.22 867.7 1023.22 865.7L1083.92 865.2" stroke="#808080" stroke-width="1.3" opacity="0.28"/>
<path d="M965.3 901.98C979.3 887.23 991.3 877.16 1025.3 875.16L1077.51 874.66" stroke="#1a1a1a" stroke-width="1.64" opacity="0.2"/>
<path d="M957.95 904.38C971.95 893.37 983.95 886.37 1017.95 884.37L1062.79 883.87" stroke="#1a1a1a" stroke-width="1.25" opacity="0.14"/>
<path d="M964.18 929.27C978.18 910.76 990.18 897.61 1024.18 895.61L1096.93 895.11" stroke="#0c0c0c" stroke-width="1.42" opacity="0.2"/>
<path d="M963.09 946.22C977.09 922.65 989.09 905.37 1023.09 903.37L1047.22 902.87" stroke="#0c0c0c" stroke-width="2.21" opacity="0.25"/>
<path d="M954.01 930.66C968.01 920.69 980.01 914.53 1014.01 912.53L1046.95 912.03" stroke="#1a1a1a" stroke-width="1.37" opacity="0.13"/>
<path d="M950 922C958 800 968 600 990 467" stroke="#101010" stroke-width="1" opacity="0.13"/>
<path d="M953.2 922C961.2 800 971.2 600 993.2 467" stroke="#b0b0b0" stroke-width="1" opacity="0.13"/>
<path d="M956.4 922C964.4 800 974.4 600 996.4 467" stroke="#101010" stroke-width="1" opacity="0.13"/>
<path d="M959.6 922C967.6 800 977.6 600 999.6 467" stroke="#b0b0b0" stroke-width="1" opacity="0.13"/>
<path d="M962.8 922C970.8 800 980.8 600 1002.8 467" stroke="#101010" stroke-width="1" opacity="0.13"/>
<path d="M966 922C974 800 984 600 1006 467" stroke="#b0b0b0" stroke-width="1" opacity="0.13"/>
<path d="M969.2 922C977.2 800 987.2 600 1009.2 467" stroke="#101010" stroke-width="1" opacity="0.13"/>
<path d="M972.4 922C980.4 800 990.4 600 1012.4 467" stroke="#b0b0b0" stroke-width="1" opacity="0.13"/>
<path d="M975.6 922C983.6 800 993.6 600 1015.6 467" stroke="#101010" stroke-width="1" opacity="0.13"/>
<path d="M978.8 922C986.8 800 996.8 600 1018.8 467" stroke="#b0b0b0" stroke-width="1" opacity="0.13"/>
</g>
</g>
<rect x="1321.8" y="466.9" width="21.7" height="455.4" fill="url(#vir)" />
<path d="M1262.9 916.4L1278.2 907.3L1278.2 913.9L1310.2 913.9L1310.2 918.9L1278.2 918.9L1278.2 925.5Z" fill="#ffffff"/>
<path d="M1262.9 913.6L1278.2 904.5L1278.2 911.1L1310.2 911.1L1310.2 916.1L1278.2 916.1L1278.2 922.7Z" fill="#46327e"/>
<path d="M1262.9 806.8L1278.2 797.7L1278.2 804.3L1310.2 804.3L1310.2 809.3L1278.2 809.3L1278.2 815.9Z" fill="#ffffff"/>
<path d="M1262.9 804L1278.2 794.9L1278.2 801.5L1310.2 801.5L1310.2 806.5L1278.2 806.5L1278.2 813.1Z" fill="#3b528b"/>
<path d="M1262.9 698.1L1278.2 689L1278.2 695.6L1310.2 695.6L1310.2 700.6L1278.2 700.6L1278.2 707.2Z" fill="#ffffff"/>
<path d="M1262.9 695.3L1278.2 686.2L1278.2 692.8L1310.2 692.8L1310.2 697.8L1278.2 697.8L1278.2 704.4Z" fill="#21918c"/>
<path d="M1262.9 589.3L1278.2 580.2L1278.2 586.8L1310.2 586.8L1310.2 591.8L1278.2 591.8L1278.2 598.4Z" fill="#ffffff"/>
<path d="M1262.9 586.5L1278.2 577.4L1278.2 584L1310.2 584L1310.2 589L1278.2 589L1278.2 595.6Z" fill="#5ec962"/>
<path d="M1262.9 479.2L1278.2 470.1L1278.2 476.7L1310.2 476.7L1310.2 481.7L1278.2 481.7L1278.2 488.3Z" fill="#ffffff"/>
<path d="M1262.9 476.4L1278.2 467.3L1278.2 473.9L1310.2 473.9L1310.2 478.9L1278.2 478.9L1278.2 485.5Z" fill="#f2e51d"/>
<path d="M914.89 1172.64L916.32 1171.11L917.75 1168.59L919.18 1170.37L920.61 1173.62L922.04 1173.02L923.47 1171.36L924.9 1168.75L926.33 1172.36L927.76 1175.18L929.2 1172.55L930.63 1171.24L932.06 1167.85L933.49 1166.73L934.92 1168.52L936.35 1170.23L937.78 1164.78L939.21 1167.59L940.64 1170.77L942.07 1173.86L943.51 1173.1L944.94 1172.31L946.37 1172.73L947.8 1172.11L949.23 1170.5L950.66 1167.82L952.09 1164.2L953.52 1163.02L954.95 1166.51L956.38 1161.3L957.82 1162.08L959.25 1157.6L960.68 1156.63L962.11 1149.36L963.54 1144.51L964.97 1134.98L966.4 1113.09L967.83 1107.35L969.26 1096.72L970.69 1096.57L972.13 1089.68L973.56 1077.83L974.99 1071.55L976.42 1063.28L977.85 1058.14L979.28 1060.98L980.71 1054.04L982.14 1058.35L983.57 1046.35L985 1053.74L986.44 1053.72L987.87 1059.88L989.3 1061.2L990.73 1073.25L992.16 1075.71L993.59 1085.87L995.02 1088.81L996.45 1096.53L997.88 1106.4L999.31 1119.09L1000.75 1123.89L1002.18 1130.31L1003.61 1132.43L1005.04 1142.22L1006.47 1136.62L1007.9 1142.21L1009.33 1147.91L1010.76 1153.02L1012.19 1157.41L1013.62 1163.3L1015.06 1169.03L1016.49 1171.78L1017.92 1171.49L1019.35 1169.25L1020.78 1169.34L1022.21 1169.47L1023.64 1170.48L1025.07 1171.59L1026.5 1173.84L1027.93 1174.17L1029.37 1172.14L1030.8 1175.94L1032.23 1179.7L1033.66 1176.14L1035.09 1177.86L1036.52 1177.49L1037.95 1177.6L1039.38 1182.62L1040.81 1177.83L1042.24 1176.09L1043.68 1178.38L1045.11 1178.67L1046.54 1180.38L1047.97 1184.01L1049.4 1184.8L1050.83 1184.23L1052.26 1182.06L1053.69 1181.47L1055.12 1182.59L1056.55 1180.33L1057.99 1183.71L1059.42 1182.47L1060.85 1180.83L1062.28 1182.96L1063.71 1188.03L1065.14 1189.6L1066.57 1188.02L1068 1186.2L1069.43 1182.48L1070.86 1185.82L1072.3 1185.85L1073.73 1184.34L1075.16 1185.15L1076.59 1190.94L1078.02 1187.63L1079.45 1181.69L1080.88 1180.49L1082.31 1184.15L1083.74 1185.59L1085.17 1185.13L1086.61 1179.46L1088.04 1179.77L1089.47 1181.18L1090.9 1178.79L1092.33 1180.92L1093.76 1177.88L1095.19 1181.67L1096.62 1183.91L1098.05 1182.69L1099.48 1180.16L1100.92 1180.14L1102.35 1180.96L1103.78 1186.53L1105.21 1187.92L1106.64 1188.68L1108.07 1189.05L1109.5 1186.66L1110.93 1187.11L1112.36 1184.79L1113.79 1184.77L1115.23 1185.72L1116.66 1185.34L1118.09 1184.33L1119.52 1182.59L1120.95 1184.47L1122.38 1185.24L1123.81 1188.45L1125.24 1183.78L1126.67 1180.76L1128.1 1182.42L1129.54 1184.32L1130.97 1187.45L1132.4 1186.4L1133.83 1185.55L1135.26 1180.29L1136.69 1181.04L1138.12 1183.99L1139.55 1190.02L1140.98 1185.3L1142.41 1184.76L1143.85 1188.59L1145.28 1187.14L1146.71 1190.29L1148.14 1180.59L1149.57 1179.15L1151 1179.4L1152.43 1181.32L1153.86 1187.32L1155.29 1186.9L1156.72 1189.95L1158.16 1187.09L1159.59 1191.45L1161.02 1191.68L1162.45 1186.85L1163.88 1182.36L1165.31 1185.77L1166.74 1189.04L1168.17 1185.72L1169.6 1183.38L1171.03 1186.02L1172.47 1187.23L1173.9 1188.09L1175.33 1189.86L1176.76 1189.94L1178.19 1185.45L1179.62 1183.53L1181.05 1178.93L1182.48 1180.64L1183.91 1181.99L1185.35 1184.95L1186.78 1185.05L1188.21 1187.91L1189.64 1191.06L1191.07 1187.5L1192.5 1183.18L1193.93 1181.49L1195.36 1179.1L1196.79 1179.91L1198.22 1182.77L1199.66 1182.93L1201.09 1184.12L1202.52 1186.71L1203.95 1189.93L1205.38 1191.75L1206.81 1189.58L1208.24 1187.65L1209.67 1187.72L1211.1 1183.29L1212.53 1183.03L1213.97 1181.89L1215.4 1179.56L1216.83 1182.68L1218.26 1187.62L1219.69 1184.77L1221.12 1186.1L1222.55 1182.35L1223.98 1181.93L1225.41 1180.05L1226.84 1179.26L1228.28 1185.37L1229.71 1183.18L1231.14 1184.88L1232.57 1186.28L1234 1186.54L1235.43 1183.88L1236.86 1181.69L1238.29 1179.81L1239.72 1184.73L1241.15 1185.75L1242.59 1190.68L1244.02 1188.9L1245.45 1185.96L1246.88 1187.06L1248.31 1185.47L1249.74 1184.36L1251.17 1181.74L1252.6 1184.15L1254.03 1185.91L1255.46 1187.01L1256.9 1181.9L1258.33 1179.77L1259.76 1181.09L1261.19 1181.22L1262.62 1181.58L1264.05 1181.63L1265.48 1182.63L1266.91 1183.65L1268.34 1186.55L1269.77 1187.19L1271.21 1182.26L1272.64 1181.34L1274.07 1181.78L1275.5 1182.75L1276.93 1182.8L1278.36 1182.15L1279.79 1184.04L1281.22 1183.41L1282.65 1182.86L1284.08 1184.79L1285.52 1186.27L1286.95 1187.83L1288.38 1189.11L1289.81 1185.43L1291.24 1190.43L1292.67 1189.1L1294.1 1188.96L1295.53 1188.87L1296.96 1187.13L1298.39 1183.45L1299.83 1183.27L1301.26 1183.65L1302.69 1185.04L1304.12 1184.9L1305.55 1182.35L1306.98 1183.58L1308.41 1186.24L1309.84 1188.44L1311.27 1189.64L1312.7 1191.18L1314.14 1186.43L1315.57 1184.76L1317 1184.95L1318.43 1181.1L1319.86 1183.31L1321.29 1181.58L1322.72 1180.22L1324.15 1184.76L1325.58 1188.06L1327.01 1188.95" fill="none" stroke="#46327e" stroke-width="5.3" stroke-linejoin="round" stroke-linecap="round" opacity="0.84"/>
<path d="M914.89 1172.86L916.32 1170.56L917.75 1174.89L919.18 1172.7L920.61 1174.53L922.04 1175.91L923.47 1177.32L924.9 1177.84L926.33 1181.77L927.76 1182.72L929.2 1183.98L930.63 1180.86L932.06 1174.85L933.49 1169L934.92 1171.99L936.35 1177.35L937.78 1177.99L939.21 1179.55L940.64 1173.41L942.07 1171.95L943.51 1173.5L944.94 1169.78L946.37 1167.07L947.8 1169.46L949.23 1166.93L950.66 1162.47L952.09 1156.28L953.52 1148.8L954.95 1141.89L956.38 1131.82L957.82 1123.75L959.25 1115.63L960.68 1096L962.11 1082.52L963.54 1068.74L964.97 1065.9L966.4 1054.32L967.83 1038.51L969.26 1038.01L970.69 1023.42L972.13 1022.35L973.56 1018.26L974.99 1020.59L976.42 1022.51L977.85 1020.94L979.28 1032.52L980.71 1033.21L982.14 1050.3L983.57 1066.5L985 1073.27L986.44 1089.86L987.87 1101.36L989.3 1107.11L990.73 1112.97L992.16 1130.45L993.59 1136.42L995.02 1137.99L996.45 1142.94L997.88 1138.17L999.31 1147.67L1000.75 1154.46L1002.18 1162.44L1003.61 1166.12L1005.04 1169.03L1006.47 1171.39L1007.9 1169.96L1009.33 1172.91L1010.76 1178.36L1012.19 1176.14L1013.62 1180.06L1015.06 1181.48L1016.49 1181.9L1017.92 1182.87L1019.35 1185.33L1020.78 1185.4L1022.21 1179.71L1023.64 1182.51L1025.07 1183.52L1026.5 1181.35L1027.93 1180.83L1029.37 1180.54L1030.8 1180.22L1032.23 1186.86L1033.66 1189.12L1035.09 1188.49L1036.52 1187.27L1037.95 1184.61L1039.38 1184.77L1040.81 1186.67L1042.24 1187.48L1043.68 1188.42L1045.11 1188.02L1046.54 1186.72L1047.97 1188.19L1049.4 1190.37L1050.83 1192.03L1052.26 1188.62L1053.69 1185.73L1055.12 1184.34L1056.55 1183.65L1057.99 1183.21L1059.42 1184.86L1060.85 1184.47L1062.28 1188.24L1063.71 1188.94L1065.14 1190.69L1066.57 1188.51L1068 1190.01L1069.43 1189.97L1070.86 1188.74L1072.3 1185.61L1073.73 1188.39L1075.16 1190.74L1076.59 1188.29L1078.02 1191.05L1079.45 1189.36L1080.88 1190.54L1082.31 1190.29L1083.74 1194.14L1085.17 1190.94L1086.61 1191.49L1088.04 1192.81L1089.47 1186.75L1090.9 1185.6L1092.33 1178.18L1093.76 1180.12L1095.19 1183.29L1096.62 1184.5L1098.05 1181.83L1099.48 1183.74L1100.92 1183.99L1102.35 1184L1103.78 1187.36L1105.21 1187.33L1106.64 1188.78L1108.07 1191.57L1109.5 1188.58L1110.93 1186.91L1112.36 1187.09L1113.79 1189.52L1115.23 1193.85L1116.66 1191.09L1118.09 1190.47L1119.52 1193.75L1120.95 1192.28L1122.38 1194.65L1123.81 1192.84L1125.24 1191.12L1126.67 1189.38L1128.1 1188.44L1129.54 1187.87L1130.97 1190.53L1132.4 1190.66L1133.83 1191.04L1135.26 1190.66L1136.69 1189.19L1138.12 1187.3L1139.55 1183.55L1140.98 1190.72L1142.41 1188.89L1143.85 1188.97L1145.28 1183.21L1146.71 1182.21L1148.14 1187.56L1149.57 1186.57L1151 1188.02L1152.43 1185.5L1153.86 1188.49L1155.29 1188.39L1156.72 1188.38L1158.16 1188.29L1159.59 1189.36L1161.02 1193.07L1162.45 1190.32L1163.88 1187.08L1165.31 1187.24L1166.74 1189.58L1168.17 1188.38L1169.6 1186.66L1171.03 1187.16L1172.47 1187.13L1173.9 1183.75L1175.33 1187.26L1176.76 1188.45L1178.19 1192.47L1179.62 1192.53L1181.05 1192.65L1182.48 1193.25L1183.91 1193.04L1185.35 1187.03L1186.78 1187.38L1188.21 1187.43L1189.64 1182.02L1191.07 1183.43L1192.5 1188.37L1193.93 1186.89L1195.36 1188.97L1196.79 1184.41L1198.22 1187.89L1199.66 1188.83L1201.09 1191.91L1202.52 1190.11L1203.95 1191.42L1205.38 1190.13L1206.81 1189.92L1208.24 1190.31L1209.67 1186.93L1211.1 1184.51L1212.53 1184.8L1213.97 1187.27L1215.4 1189.44L1216.83 1187.85L1218.26 1181.7L1219.69 1183.96L1221.12 1186.36L1222.55 1187.86L1223.98 1189.88L1225.41 1191.03L1226.84 1190.05L1228.28 1185.48L1229.71 1185.55L1231.14 1186.8L1232.57 1190.28L1234 1188.48L1235.43 1187.74L1236.86 1190.02L1238.29 1191.33L1239.72 1189.8L1241.15 1186.22L1242.59 1184.53L1244.02 1184.33L1245.45 1185.43L1246.88 1184.71L1248.31 1184.97L1249.74 1180.02L1251.17 1184.23L1252.6 1185.47L1254.03 1182.51L1255.46 1183.98L1256.9 1181.07L1258.33 1182.43L1259.76 1182.96L1261.19 1184.55L1262.62 1188.08L1264.05 1189.65L1265.48 1183.29L1266.91 1182.41L1268.34 1181.86L1269.77 1180.65L1271.21 1180.68L1272.64 1179.64L1274.07 1181.92L1275.5 1183.46L1276.93 1181.73L1278.36 1183.63L1279.79 1187.29L1281.22 1187.33L1282.65 1188.11L1284.08 1185.95L1285.52 1187.53L1286.95 1189.47L1288.38 1189.15L1289.81 1184.49L1291.24 1184.9L1292.67 1184.7L1294.1 1184.92L1295.53 1184.4L1296.96 1182.54L1298.39 1180.1L1299.83 1185.49L1301.26 1182.3L1302.69 1183.22L1304.12 1184.62L1305.55 1179.24L1306.98 1181.41L1308.41 1177.99L1309.84 1177.83L1311.27 1182.41L1312.7 1182.14L1314.14 1181.36L1315.57 1182.83L1317 1189.06L1318.43 1188.89L1319.86 1188.4L1321.29 1190.21L1322.72 1184.61L1324.15 1185.45L1325.58 1186.4L1327.01 1186.86" fill="none" stroke="#3b528b" stroke-width="5.3" stroke-linejoin="round" stroke-linecap="round" opacity="0.84"/>
<path d="M914.89 1184.15L916.32 1185.61L917.75 1184.67L919.18 1183.51L920.61 1184.66L922.04 1184.54L923.47 1187.56L924.9 1185.28L926.33 1186.68L927.76 1185.45L929.2 1187.26L930.63 1187.67L932.06 1186.3L933.49 1188.71L934.92 1181.83L936.35 1182.8L937.78 1183.62L939.21 1185.8L940.64 1181.9L942.07 1179.59L943.51 1180.46L944.94 1184.98L946.37 1186.13L947.8 1184.16L949.23 1185.21L950.66 1187.3L952.09 1188.42L953.52 1187.68L954.95 1184.47L956.38 1182.82L957.82 1178.68L959.25 1166.68L960.68 1158.43L962.11 1157.96L963.54 1151L964.97 1143.51L966.4 1135.4L967.83 1121.58L969.26 1112.51L970.69 1102.02L972.13 1090.72L973.56 1077.5L974.99 1057.45L976.42 1041.8L977.85 1039.19L979.28 1030.86L980.71 1025.95L982.14 1012.65L983.57 1007.15L985 1000.64L986.44 1003.86L987.87 1019.75L989.3 1019.8L990.73 1024.55L992.16 1030.06L993.59 1047.68L995.02 1056.5L996.45 1070.44L997.88 1083.8L999.31 1091.98L1000.75 1101.39L1002.18 1116.14L1003.61 1132.05L1005.04 1147.89L1006.47 1154.27L1007.9 1155.18L1009.33 1146.48L1010.76 1160.09L1012.19 1166.35L1013.62 1167.99L1015.06 1166.56L1016.49 1167.82L1017.92 1171.51L1019.35 1175.03L1020.78 1181.17L1022.21 1184.25L1023.64 1186.41L1025.07 1189.28L1026.5 1189.46L1027.93 1190.9L1029.37 1190.33L1030.8 1187.41L1032.23 1187.17L1033.66 1187.94L1035.09 1190.24L1036.52 1195.1L1037.95 1195.34L1039.38 1194.08L1040.81 1197.01L1042.24 1193.84L1043.68 1195.07L1045.11 1194.28L1046.54 1195.39L1047.97 1198.39L1049.4 1192.65L1050.83 1196.19L1052.26 1193.79L1053.69 1195.56L1055.12 1194.84L1056.55 1196.89L1057.99 1197.42L1059.42 1194.64L1060.85 1190.2L1062.28 1193.59L1063.71 1193.99L1065.14 1192.05L1066.57 1194.36L1068 1192.84L1069.43 1195.25L1070.86 1193.7L1072.3 1192.95L1073.73 1190.57L1075.16 1190.84L1076.59 1194.67L1078.02 1193.04L1079.45 1196L1080.88 1193.75L1082.31 1190.31L1083.74 1189.97L1085.17 1192.41L1086.61 1190.04L1088.04 1190.71L1089.47 1194.5L1090.9 1195.11L1092.33 1191.35L1093.76 1192.68L1095.19 1192.61L1096.62 1193.62L1098.05 1197.49L1099.48 1197.49L1100.92 1195.42L1102.35 1194.26L1103.78 1194.3L1105.21 1198.91L1106.64 1194.31L1108.07 1192.16L1109.5 1189.87L1110.93 1187.55L1112.36 1189.95L1113.79 1192.04L1115.23 1191.35L1116.66 1187.64L1118.09 1192.84L1119.52 1193.13L1120.95 1194.46L1122.38 1192.4L1123.81 1188.76L1125.24 1190.25L1126.67 1193.52L1128.1 1192.82L1129.54 1193.08L1130.97 1196.19L1132.4 1192.7L1133.83 1193.48L1135.26 1191.17L1136.69 1194.19L1138.12 1190.66L1139.55 1194.07L1140.98 1190.63L1142.41 1194.86L1143.85 1190.38L1145.28 1191.26L1146.71 1194.64L1148.14 1193.94L1149.57 1192.07L1151 1193.82L1152.43 1193.89L1153.86 1192.11L1155.29 1191.84L1156.72 1198.44L1158.16 1196.96L1159.59 1193.86L1161.02 1191.9L1162.45 1188.8L1163.88 1190.53L1165.31 1184.13L1166.74 1183.62L1168.17 1184.37L1169.6 1183.07L1171.03 1182.42L1172.47 1183.92L1173.9 1186.68L1175.33 1184.78L1176.76 1184.79L1178.19 1190.23L1179.62 1192.26L1181.05 1190L1182.48 1189.19L1183.91 1188.19L1185.35 1186.58L1186.78 1186.57L1188.21 1183.16L1189.64 1185.78L1191.07 1187.2L1192.5 1186.5L1193.93 1184.98L1195.36 1183.75L1196.79 1181.2L1198.22 1183.96L1199.66 1182.06L1201.09 1182.3L1202.52 1186.01L1203.95 1186.52L1205.38 1181.64L1206.81 1181.16L1208.24 1183.73L1209.67 1190.1L1211.1 1190.75L1212.53 1191.11L1213.97 1189.52L1215.4 1183.09L1216.83 1182.12L1218.26 1182.41L1219.69 1185.53L1221.12 1188.34L1222.55 1188.04L1223.98 1188.41L1225.41 1180.48L1226.84 1182.77L1228.28 1184.89L1229.71 1182.29L1231.14 1182.86L1232.57 1186.33L1234 1182.88L1235.43 1184.12L1236.86 1187.39L1238.29 1185.84L1239.72 1184.3L1241.15 1185.11L1242.59 1183.24L1244.02 1181.66L1245.45 1184.53L1246.88 1189.36L1248.31 1193.62L1249.74 1191.37L1251.17 1186.55L1252.6 1183.62L1254.03 1180.59L1255.46 1177.32L1256.9 1179.3L1258.33 1178.27L1259.76 1183.61L1261.19 1182.24L1262.62 1181.95L1264.05 1182.88L1265.48 1184.38L1266.91 1187.03L1268.34 1186L1269.77 1182.57L1271.21 1183.98L1272.64 1182.87L1274.07 1184.89L1275.5 1184.18L1276.93 1186.64L1278.36 1185.15L1279.79 1185.48L1281.22 1184.47L1282.65 1185.9L1284.08 1188.27L1285.52 1187.99L1286.95 1184.58L1288.38 1180.84L1289.81 1182.63L1291.24 1181.27L1292.67 1180.39L1294.1 1180.62L1295.53 1185.35L1296.96 1184.35L1298.39 1186.67L1299.83 1183.3L1301.26 1181.78L1302.69 1181.09L1304.12 1188.01L1305.55 1185.57L1306.98 1183.62L1308.41 1186.87L1309.84 1183.93L1311.27 1183.91L1312.7 1184.51L1314.14 1186.18L1315.57 1188.1L1317 1188.12L1318.43 1179.85L1319.86 1180.67L1321.29 1181.25L1322.72 1183.69L1324.15 1185.37L1325.58 1186.42L1327.01 1187.97" fill="none" stroke="#21918c" stroke-width="5.3" stroke-linejoin="round" stroke-linecap="round" opacity="0.84"/>
<path d="M914.89 1191.74L916.32 1193.11L917.75 1191.47L919.18 1195.08L920.61 1192.83L922.04 1193.5L923.47 1192.39L924.9 1193.45L926.33 1196.1L927.76 1193.12L929.2 1194.88L930.63 1195.52L932.06 1197.76L933.49 1196.85L934.92 1197.63L936.35 1196.65L937.78 1195.84L939.21 1197.71L940.64 1200.78L942.07 1198.66L943.51 1195.98L944.94 1194.53L946.37 1197.76L947.8 1195.82L949.23 1194.74L950.66 1193.9L952.09 1192.5L953.52 1192.7L954.95 1190.72L956.38 1186.44L957.82 1185.51L959.25 1185.55L960.68 1180.01L962.11 1172.52L963.54 1169.79L964.97 1160.88L966.4 1146.29L967.83 1133.31L969.26 1117.93L970.69 1106.53L972.13 1084.28L973.56 1058.38L974.99 1042.53L976.42 1028.87L977.85 1017.2L979.28 994.45L980.71 979.48L982.14 972.41L983.57 955.13L985 946.12L986.44 942.71L987.87 957.53L989.3 961.39L990.73 963.82L992.16 980.92L993.59 985.7L995.02 991.91L996.45 1004.15L997.88 1027.06L999.31 1048L1000.75 1060.15L1002.18 1073.39L1003.61 1086.23L1005.04 1099.42L1006.47 1116.76L1007.9 1132.65L1009.33 1150.59L1010.76 1136.41L1012.19 1139.34L1013.62 1151.75L1015.06 1161.73L1016.49 1166.58L1017.92 1171.66L1019.35 1180.64L1020.78 1185.71L1022.21 1190.71L1023.64 1186.61L1025.07 1190.96L1026.5 1190.36L1027.93 1187.51L1029.37 1185.74L1030.8 1185.8L1032.23 1185.5L1033.66 1192.39L1035.09 1195.29L1036.52 1198.41L1037.95 1199.69L1039.38 1193.73L1040.81 1199.86L1042.24 1199L1043.68 1202.55L1045.11 1198.97L1046.54 1196.51L1047.97 1199.08L1049.4 1194.79L1050.83 1196.47L1052.26 1194.76L1053.69 1195.89L1055.12 1198.77L1056.55 1200.42L1057.99 1200.98L1059.42 1199.64L1060.85 1199.83L1062.28 1194.68L1063.71 1197L1065.14 1199.31L1066.57 1201.55L1068 1203.29L1069.43 1206.09L1070.86 1207.02L1072.3 1203.22L1073.73 1202.46L1075.16 1202.44L1076.59 1201.18L1078.02 1198.57L1079.45 1197.73L1080.88 1196.74L1082.31 1199.15L1083.74 1200.16L1085.17 1202.09L1086.61 1201.85L1088.04 1203.36L1089.47 1203.37L1090.9 1202.9L1092.33 1202.63L1093.76 1202.54L1095.19 1202.98L1096.62 1199.04L1098.05 1200.07L1099.48 1202.36L1100.92 1201.16L1102.35 1203.28L1103.78 1204.76L1105.21 1203.07L1106.64 1205.96L1108.07 1211.66L1109.5 1207.5L1110.93 1202.72L1112.36 1205.62L1113.79 1205.87L1115.23 1202.56L1116.66 1206.18L1118.09 1206.15L1119.52 1206.88L1120.95 1205.02L1122.38 1207.83L1123.81 1203.09L1125.24 1202.09L1126.67 1200.3L1128.1 1200.48L1129.54 1204.79L1130.97 1203.25L1132.4 1204.91L1133.83 1202.91L1135.26 1203.47L1136.69 1202.59L1138.12 1201.69L1139.55 1198.7L1140.98 1196.54L1142.41 1199.13L1143.85 1198.65L1145.28 1194.81L1146.71 1194.29L1148.14 1196.77L1149.57 1197.1L1151 1197.85L1152.43 1195.34L1153.86 1195.64L1155.29 1195.03L1156.72 1190.25L1158.16 1195.22L1159.59 1197.93L1161.02 1201.54L1162.45 1203.79L1163.88 1199.63L1165.31 1197.93L1166.74 1193.54L1168.17 1198.84L1169.6 1200.06L1171.03 1195.44L1172.47 1193.08L1173.9 1191.69L1175.33 1190.69L1176.76 1191.93L1178.19 1192.9L1179.62 1193.47L1181.05 1191.96L1182.48 1193.21L1183.91 1192.95L1185.35 1190.07L1186.78 1194.04L1188.21 1196L1189.64 1194.29L1191.07 1194.98L1192.5 1195.21L1193.93 1190.05L1195.36 1190.27L1196.79 1192.36L1198.22 1190.28L1199.66 1185.42L1201.09 1190.43L1202.52 1192.98L1203.95 1192.94L1205.38 1194.66L1206.81 1189.27L1208.24 1189.24L1209.67 1191.37L1211.1 1190.79L1212.53 1193.37L1213.97 1194.76L1215.4 1194.06L1216.83 1188.17L1218.26 1194.82L1219.69 1193.3L1221.12 1189.99L1222.55 1189.02L1223.98 1185.53L1225.41 1186.44L1226.84 1187.8L1228.28 1189.4L1229.71 1192.24L1231.14 1188.4L1232.57 1192.24L1234 1192.49L1235.43 1193.59L1236.86 1194.97L1238.29 1199.32L1239.72 1198.11L1241.15 1195.99L1242.59 1194.42L1244.02 1191.71L1245.45 1192.12L1246.88 1193.54L1248.31 1192.33L1249.74 1190.63L1251.17 1193.08L1252.6 1196.3L1254.03 1197.46L1255.46 1193.39L1256.9 1190.6L1258.33 1193.03L1259.76 1192.42L1261.19 1190.28L1262.62 1187.59L1264.05 1190.32L1265.48 1191.3L1266.91 1188.13L1268.34 1183.5L1269.77 1182.23L1271.21 1187.59L1272.64 1187.72L1274.07 1189.57L1275.5 1190.34L1276.93 1192.31L1278.36 1193.3L1279.79 1192.91L1281.22 1188.36L1282.65 1187.68L1284.08 1187.84L1285.52 1188.89L1286.95 1191.47L1288.38 1192.11L1289.81 1189.11L1291.24 1187.92L1292.67 1184.39L1294.1 1185.86L1295.53 1187.57L1296.96 1192.57L1298.39 1191.42L1299.83 1195.58L1301.26 1190.94L1302.69 1192.67L1304.12 1192.43L1305.55 1195.43L1306.98 1195.59L1308.41 1196.72L1309.84 1192.69L1311.27 1191.86L1312.7 1194.62L1314.14 1198.38L1315.57 1196.7L1317 1196.48L1318.43 1197.78L1319.86 1194.72L1321.29 1194.35L1322.72 1193.38L1324.15 1194.33L1325.58 1194.96L1327.01 1195.16" fill="none" stroke="#5ec962" stroke-width="5.3" stroke-linejoin="round" stroke-linecap="round" opacity="0.84"/>
<path d="M914.89 1191.82L916.32 1189.44L917.75 1188.31L919.18 1192.53L920.61 1191.33L922.04 1188.03L923.47 1187.85L924.9 1185.28L926.33 1187.15L927.76 1187.9L929.2 1191.54L930.63 1193.28L932.06 1196.72L933.49 1197.05L934.92 1194.62L936.35 1192.25L937.78 1189.01L939.21 1189.09L940.64 1191.74L942.07 1190.2L943.51 1190.3L944.94 1185.55L946.37 1181.34L947.8 1180.24L949.23 1183.99L950.66 1184.51L952.09 1182.15L953.52 1181.6L954.95 1176.52L956.38 1170.55L957.82 1163.6L959.25 1157.87L960.68 1154.57L962.11 1149.34L963.54 1140L964.97 1124.13L966.4 1107.49L967.83 1093.83L969.26 1082.97L970.69 1070.29L972.13 1057.27L973.56 1042.65L974.99 1032.32L976.42 1037.41L977.85 1026.27L979.28 1021.75L980.71 1024.62L982.14 1022.31L983.57 1024L985 1029.58L986.44 1045.84L987.87 1049.75L989.3 1053.3L990.73 1062.56L992.16 1080.36L993.59 1085.82L995.02 1091.92L996.45 1101.97L997.88 1110.97L999.31 1123.15L1000.75 1135.34L1002.18 1141.76L1003.61 1151.29L1005.04 1143.5L1006.47 1140.5L1007.9 1148.59L1009.33 1157.32L1010.76 1169.61L1012.19 1173.99L1013.62 1175.96L1015.06 1181.95L1016.49 1185.37L1017.92 1193.43L1019.35 1192.22L1020.78 1194.59L1022.21 1193.32L1023.64 1190.97L1025.07 1193.28L1026.5 1192.31L1027.93 1193.6L1029.37 1195.79L1030.8 1197.71L1032.23 1200.61L1033.66 1197.71L1035.09 1196.74L1036.52 1200.71L1037.95 1199.28L1039.38 1202.14L1040.81 1206.18L1042.24 1202.77L1043.68 1205.89L1045.11 1202.27L1046.54 1202L1047.97 1200.13L1049.4 1199.71L1050.83 1197.87L1052.26 1198.44L1053.69 1198.3L1055.12 1198.96L1056.55 1197.42L1057.99 1199.81L1059.42 1198.19L1060.85 1195.85L1062.28 1197.85L1063.71 1198.08L1065.14 1200.47L1066.57 1201.64L1068 1201.17L1069.43 1202.23L1070.86 1204.25L1072.3 1203.66L1073.73 1202.7L1075.16 1201.67L1076.59 1199.99L1078.02 1204.61L1079.45 1200.41L1080.88 1201.09L1082.31 1202.97L1083.74 1203.35L1085.17 1201.69L1086.61 1199.46L1088.04 1200.73L1089.47 1200.39L1090.9 1204.25L1092.33 1202.85L1093.76 1202.47L1095.19 1202.93L1096.62 1200.13L1098.05 1195.96L1099.48 1194.72L1100.92 1198.06L1102.35 1195.01L1103.78 1197.17L1105.21 1198.01L1106.64 1199.85L1108.07 1198.72L1109.5 1197.64L1110.93 1197.8L1112.36 1198.73L1113.79 1199.21L1115.23 1200.13L1116.66 1197.55L1118.09 1199.16L1119.52 1199.43L1120.95 1199.73L1122.38 1201.19L1123.81 1200.99L1125.24 1203.73L1126.67 1201.27L1128.1 1199.16L1129.54 1199.59L1130.97 1195.52L1132.4 1198.14L1133.83 1196.77L1135.26 1195.93L1136.69 1197.68L1138.12 1198.23L1139.55 1195.94L1140.98 1196.2L1142.41 1195.85L1143.85 1192.96L1145.28 1193.61L1146.71 1198.48L1148.14 1199.77L1149.57 1196.99L1151 1197.22L1152.43 1199.58L1153.86 1203.36L1155.29 1200.66L1156.72 1195.94L1158.16 1198.96L1159.59 1203.24L1161.02 1200.06L1162.45 1200.18L1163.88 1199.66L1165.31 1199.32L1166.74 1200.4L1168.17 1198.02L1169.6 1195.16L1171.03 1194.36L1172.47 1195.92L1173.9 1193.28L1175.33 1194.04L1176.76 1192.95L1178.19 1195.68L1179.62 1193.89L1181.05 1192.38L1182.48 1189.99L1183.91 1191.18L1185.35 1191.05L1186.78 1193.3L1188.21 1191.49L1189.64 1190.41L1191.07 1188.9L1192.5 1191.2L1193.93 1194.78L1195.36 1194.64L1196.79 1194.84L1198.22 1196.21L1199.66 1194.02L1201.09 1191.62L1202.52 1191.15L1203.95 1189.12L1205.38 1189.29L1206.81 1192.58L1208.24 1194.02L1209.67 1194.48L1211.1 1192.37L1212.53 1190.28L1213.97 1190.57L1215.4 1188.71L1216.83 1191.62L1218.26 1192.03L1219.69 1188.56L1221.12 1188.48L1222.55 1187L1223.98 1192.72L1225.41 1196.3L1226.84 1196.99L1228.28 1193.11L1229.71 1188.85L1231.14 1190.96L1232.57 1193.31L1234 1195.04L1235.43 1195.98L1236.86 1193.26L1238.29 1193.3L1239.72 1188.21L1241.15 1187.21L1242.59 1189.72L1244.02 1189.46L1245.45 1190.18L1246.88 1188.51L1248.31 1187.03L1249.74 1188.88L1251.17 1187.33L1252.6 1186.97L1254.03 1188.23L1255.46 1188.34L1256.9 1187.44L1258.33 1189.1L1259.76 1191.12L1261.19 1188.08L1262.62 1188.82L1264.05 1190.73L1265.48 1189.67L1266.91 1193.38L1268.34 1192.51L1269.77 1195.17L1271.21 1194.91L1272.64 1197.87L1274.07 1197.53L1275.5 1193.56L1276.93 1193.19L1278.36 1195.31L1279.79 1190.01L1281.22 1191.67L1282.65 1187.98L1284.08 1189.97L1285.52 1193.56L1286.95 1188.51L1288.38 1190.13L1289.81 1188.54L1291.24 1186.4L1292.67 1190.65L1294.1 1190.51L1295.53 1191.9L1296.96 1190.17L1298.39 1190.36L1299.83 1193.38L1301.26 1192.5L1302.69 1190.24L1304.12 1191.06L1305.55 1189.67L1306.98 1191.19L1308.41 1191.18L1309.84 1190.25L1311.27 1190.05L1312.7 1187.31L1314.14 1186.08L1315.57 1185.44L1317 1185.25L1318.43 1186.42L1319.86 1190.31L1321.29 1187.97L1322.72 1184.73L1324.15 1185.89L1325.58 1187.83L1327.01 1188.72" fill="none" stroke="#fde725" stroke-width="5.3" stroke-linejoin="round" stroke-linecap="round" opacity="0.84"/>
<rect x="897" y="464.8" width="449.1" height="755.7" fill="none" stroke="#231f20" stroke-width="4.3"/>
<line x1="897" y1="925.2" x2="1346.1" y2="925.2" stroke="#231f20" stroke-width="4.4" />
<line x1="906.3" y1="1220.5" x2="906.3" y2="1212.1" stroke="#231f20" stroke-width="4.3" />
<line x1="906.3" y1="925.2" x2="906.3" y2="933.6" stroke="#231f20" stroke-width="4.3" />
<line x1="1049.8" y1="1220.5" x2="1049.8" y2="1212.1" stroke="#231f20" stroke-width="4.3" />
<line x1="1049.8" y1="925.2" x2="1049.8" y2="933.6" stroke="#231f20" stroke-width="4.3" />
<line x1="1192.6" y1="1220.5" x2="1192.6" y2="1212.1" stroke="#231f20" stroke-width="4.3" />
<line x1="1192.6" y1="925.2" x2="1192.6" y2="933.6" stroke="#231f20" stroke-width="4.3" />
<line x1="1335.6" y1="1220.5" x2="1335.6" y2="1212.1" stroke="#231f20" stroke-width="4.3" />
<line x1="1335.6" y1="925.2" x2="1335.6" y2="933.6" stroke="#231f20" stroke-width="4.3" />
<line x1="897" y1="1017" x2="905.4" y2="1017" stroke="#231f20" stroke-width="4.3" />
<line x1="1346.1" y1="1017" x2="1337.7" y2="1017" stroke="#231f20" stroke-width="4.3" />
<line x1="897" y1="1121.6" x2="905.4" y2="1121.6" stroke="#231f20" stroke-width="4.3" />
<line x1="1346.1" y1="1121.6" x2="1337.7" y2="1121.6" stroke="#231f20" stroke-width="4.3" />
<line x1="897" y1="493.6" x2="905.4" y2="493.6" stroke="#231f20" stroke-width="4.3" />
<line x1="897" y1="683.2" x2="905.4" y2="683.2" stroke="#231f20" stroke-width="4.3" />
<line x1="897" y1="896.5" x2="905.4" y2="896.5" stroke="#231f20" stroke-width="4.3" />
<text x="754.5" y="470.1" font-size="34.8" text-anchor="start" font-weight="bold" font-style="normal" >e</text>
<text x="885" y="501.6" font-size="29.2" text-anchor="end" font-weight="normal" font-style="normal" >1</text>
<text x="885" y="703" font-size="29.2" text-anchor="end" font-weight="normal" font-style="normal" >0.5</text>
<text x="885" y="904.1" font-size="29.2" text-anchor="end" font-weight="normal" font-style="normal" >0</text>
<text x="884.8" y="1022.8" font-size="29.2" text-anchor="end" font-weight="normal" font-style="normal" >40</text>
<text x="884.8" y="1124.8" font-size="29.2" text-anchor="end" font-weight="normal" font-style="normal" >20</text>
<text x="884.8" y="1226.6" font-size="29.2" text-anchor="end" font-weight="normal" font-style="normal" >0</text>
<text x="906.3" y="1257.3" font-size="29.2" text-anchor="middle" font-weight="normal" font-style="normal" >0</text>
<text x="1049.8" y="1257.3" font-size="29.2" text-anchor="middle" font-weight="normal" font-style="normal" >10</text>
<text x="1192.6" y="1257.3" font-size="29.2" text-anchor="middle" font-weight="normal" font-style="normal" >20</text>
<text x="1335.6" y="1257.3" font-size="29.2" text-anchor="middle" font-weight="normal" font-style="normal" >30</text>
<text x="1121.6" y="1292.5" font-size="29.2" text-anchor="middle" font-weight="normal" font-style="normal" >time (s)</text>
<text x="793" y="690.2" font-size="29.2" text-anchor="middle" font-weight="normal" font-style="normal" transform="rotate(-90 793 690.2)" >spatial coordinate (mm)</text>
<text x="793" y="1073.8" font-size="29.2" text-anchor="middle" font-weight="normal" font-style="normal" transform="rotate(-90 793 1073.8)" >speed (µm/s)</text>
<line x1="1876.8" y1="471.9" x2="1876.8" y2="760.3" stroke="#231f20" stroke-width="4.3" stroke-dasharray="14.6 7.5"/>
<line x1="1876.8" y1="748" x2="1876.8" y2="760.3" stroke="#231f20" stroke-width="4.3" />
<path d="M1670.23 712.9L1671.67 712.9L1673.1 712.9L1674.53 712.9L1675.96 712.9L1677.39 712.9L1678.83 712.9L1680.26 712.9L1681.69 712.9L1683.12 712.9L1684.55 712.9L1685.99 712.9L1687.42 712.9L1688.85 712.9L1690.28 712.9L1691.71 712.9L1693.15 712.9L1694.58 712.9L1696.01 712.9L1697.44 714.11L1698.87 716.01L1700.31 718.21L1701.74 720.64L1703.17 723.23L1704.6 725.86L1706.03 728.47L1707.47 730.95L1708.9 733.26L1710.33 735.35L1711.76 735.52L1713.19 735.01L1714.63 734.46L1716.06 733.95L1717.49 733.53L1718.92 733.25L1720.35 733.14L1721.79 733.23L1723.22 733.52L1724.65 734L1726.08 734.62L1727.51 735.35L1728.95 736.11L1730.38 736.86L1731.81 737.51L1733.24 738.01L1734.67 738.28L1736.11 738.29L1737.54 738L1738.97 737.38L1740.4 736.45L1741.83 735.23L1743.27 733.75L1744.7 732.08L1746.13 730.29L1747.56 728.44L1748.99 726.63L1750.43 724.93L1751.86 723.43L1753.29 722.18L1754.72 721.24L1756.15 720.64L1757.59 720.38L1759.02 720.48L1760.45 720.89L1761.88 721.58L1763.31 722.48L1764.75 723.54L1766.18 724.68L1767.61 725.82L1769.04 726.9L1770.47 727.85L1771.91 728.64L1773.34 729.22L1774.77 729.58L1776.2 729.73L1777.63 729.69L1779.07 729.49L1780.5 729.19L1781.93 728.85L1783.36 728.53L1784.79 728.29L1786.23 728.19L1787.66 728.28L1789.09 728.6L1790.52 729.17L1791.95 729.98L1793.39 731.03L1794.82 732.27L1796.25 733.66L1797.68 735.13L1799.11 736.61L1800.55 738.02L1801.98 739.28L1803.41 740.33L1804.84 741.1L1806.27 741.54L1807.71 741.62L1809.14 741.34L1810.57 740.7L1812 739.73L1813.43 738.48L1814.87 737L1816.3 735.38L1817.73 733.69L1819.16 732.01L1820.59 730.42L1822.03 728.99L1823.46 727.77L1824.89 726.8L1826.32 726.11L1827.75 725.7L1829.19 725.55L1830.62 725.63L1832.05 725.9L1833.48 726.29L1834.91 726.73L1836.35 727.15L1837.78 727.48L1839.21 727.64L1840.64 727.56L1842.07 727.17L1843.51 726.41L1844.94 725.22L1846.37 723.52L1847.8 721.24L1849.23 718.27L1850.67 714.5L1852.1 709.46L1853.53 702.39L1854.96 694.2L1856.39 684.64L1857.83 673.46L1859.26 660.42L1860.69 645.39L1862.12 628.35L1863.55 610.65L1864.99 592.12L1866.42 572.92L1867.85 553.73L1869.28 535.32L1870.71 518.52L1872.15 504.14L1873.58 492.93L1875.01 485.49L1876.44 482.24L1877.87 483.37L1879.31 488.81L1880.74 498.27L1882.17 511.26L1883.6 527.1L1885.03 545.04L1886.47 564.28L1887.9 584.08L1889.33 603.78L1890.76 622.83L1892.19 640.1L1893.63 656.83L1895.06 672.17L1896.49 686.07L1897.92 698.54L1899.35 709.61L1900.79 719.27L1902.22 727.48L1903.65 734.19L1905.08 739.34L1906.51 742.88L1907.95 744.84L1909.38 745.33L1910.81 744.54L1912.24 742.74L1913.67 740.25L1915.11 737.4L1916.54 734.48L1917.97 731.76L1919.4 729.4L1920.83 727.5L1922.27 726.09L1923.7 725.14L1925.13 724.59L1926.56 724.36L1927.99 724.36L1929.43 724.52L1930.86 724.77L1932.29 725.06L1933.72 725.36L1935.15 725.64L1936.59 725.87L1938.02 726.05L1939.45 726.16L1940.88 726.21L1942.31 726.2L1943.75 726.11L1945.18 725.95L1946.61 725.73L1948.04 725.44L1949.47 725.1L1950.91 724.7L1952.34 724.25L1953.77 723.76L1955.2 723.24L1956.63 722.69L1958.07 722.11L1959.5 721.52L1960.93 720.92L1962.36 720.31L1963.79 719.71L1965.23 719.12L1966.66 718.55L1968.09 717.99L1969.52 717.45L1970.95 716.94L1972.39 716.46L1973.82 716.01L1975.25 715.59L1976.68 715.2L1978.11 714.84L1979.55 714.52L1980.98 714.24L1982.41 714L1983.84 713.8L1985.27 713.66L1986.71 713.6L1988.14 713.61L1989.57 713.72L1991 713.94L1992.43 714.29L1993.87 714.78L1995.3 715.4L1996.73 716.13L1998.16 716.95L1999.59 717.8L2001.03 718.66L2002.46 719.45L2003.89 720.16L2005.32 720.76L2006.75 721.25L2008.19 721.66L2009.62 722.06L2011.05 722.51L2012.48 723.08L2013.91 723.83L2015.35 724.81L2016.78 726.03L2018.21 727.46L2019.64 729.06L2021.07 730.74L2022.51 732.4L2023.94 733.93L2025.37 735.22L2026.8 736.17L2028.23 736.71L2029.67 736.8L2031.1 736.41L2032.53 735.56L2033.96 734.3L2035.39 732.7L2036.83 730.83L2038.26 728.8L2039.69 726.7L2041.12 724.6L2042.55 722.59L2043.99 720.71L2045.42 718.99L2046.85 717.42L2048.28 715.98L2049.71 714.62L2051.15 713.31L2052.58 712L2054.01 710.73L2055.44 709.57L2056.87 708.61L2058.31 707.97L2059.74 707.74L2061.17 712.15L2062.6 712.15L2064.03 712.15L2065.47 712.15L2066.9 712.15L2068.33 712.15L2069.76 712.15L2071.19 712.15L2072.63 712.15L2074.06 712.15L2075.49 712.15L2076.92 712.15L2078.35 712.15L2079.79 712.15L2081.22 712.15L2082.65 712.15" fill="none" stroke="#8a78b0" stroke-width="5.2" stroke-linejoin="round" opacity="0.8"/>
<path d="M1670.23 712.9L1671.67 712.9L1673.1 712.9L1674.53 712.9L1675.96 712.9L1677.39 712.9L1678.83 712.9L1680.26 712.9L1681.69 712.9L1683.12 712.9L1684.55 712.9L1685.99 712.9L1687.42 712.9L1688.85 712.9L1690.28 712.9L1691.71 712.9L1693.15 712.9L1694.58 712.9L1696.01 712.9L1697.44 714.85L1698.87 717.52L1700.31 720.17L1701.74 722.73L1703.17 725.11L1704.6 727.28L1706.03 729.21L1707.47 730.92L1708.9 732.45L1710.33 733.86L1711.76 733.68L1713.19 733.12L1714.63 732.77L1716.06 732.61L1717.49 732.66L1718.92 732.87L1720.35 733.22L1721.79 733.64L1723.22 734.08L1724.65 734.47L1726.08 734.75L1727.51 734.85L1728.95 734.74L1730.38 734.36L1731.81 733.72L1733.24 732.81L1734.67 731.64L1736.11 730.26L1737.54 728.71L1738.97 727.08L1740.4 725.42L1741.83 723.83L1743.27 722.38L1744.7 721.14L1746.13 720.19L1747.56 719.55L1748.99 719.27L1750.43 719.36L1751.86 719.81L1753.29 720.59L1754.72 721.66L1756.15 722.95L1757.59 724.4L1759.02 725.93L1760.45 727.45L1761.88 728.9L1763.31 730.21L1764.75 731.33L1766.18 732.21L1767.61 732.83L1769.04 733.21L1770.47 733.34L1771.91 733.27L1773.34 733.04L1774.77 732.71L1776.2 732.35L1777.63 732.01L1779.07 731.77L1780.5 731.66L1781.93 731.74L1783.36 732.02L1784.79 732.51L1786.23 733.21L1787.66 734.09L1789.09 735.09L1790.52 736.16L1791.95 737.24L1793.39 738.26L1794.82 739.13L1796.25 739.79L1797.68 740.19L1799.11 740.28L1800.55 740.03L1801.98 739.44L1803.41 738.5L1804.84 737.26L1806.27 735.76L1807.71 734.07L1809.14 732.25L1810.57 730.4L1812 728.58L1813.43 726.89L1814.87 725.39L1816.3 724.14L1817.73 723.18L1819.16 722.55L1820.59 722.24L1822.03 722.24L1823.46 722.52L1824.89 723.03L1826.32 723.72L1827.75 724.51L1829.19 725.34L1830.62 726.13L1832.05 726.82L1833.48 727.37L1834.91 727.72L1836.35 727.85L1837.78 727.76L1839.21 727.43L1840.64 726.87L1842.07 726.1L1843.51 725.11L1844.94 723.9L1846.37 722.44L1847.8 720.68L1849.23 718.51L1850.67 715.81L1852.1 711.95L1853.53 705.74L1854.96 698.09L1856.39 688.65L1857.83 677.14L1859.26 663.35L1860.69 647.19L1862.12 628.73L1863.55 610.65L1864.99 592.12L1866.42 572.92L1867.85 553.73L1869.28 535.32L1870.71 518.52L1872.15 504.14L1873.58 492.93L1875.01 485.49L1876.44 482.24L1877.87 483.37L1879.31 488.81L1880.74 498.27L1882.17 511.26L1883.6 527.1L1885.03 545.04L1886.47 564.28L1887.9 584.08L1889.33 603.78L1890.76 622.83L1892.19 640.35L1893.63 657.08L1895.06 672.42L1896.49 686.32L1897.92 698.79L1899.35 709.86L1900.79 719.52L1902.22 727.73L1903.65 734.44L1905.08 739.59L1906.51 743.13L1907.95 745.09L1909.38 745.58L1910.81 744.79L1912.24 742.99L1913.67 740.5L1915.11 737.65L1916.54 734.73L1917.97 732.01L1919.4 729.65L1920.83 727.75L1922.27 726.34L1923.7 725.39L1925.13 724.84L1926.56 724.61L1927.99 724.61L1929.43 724.77L1930.86 725.02L1932.29 725.31L1933.72 725.61L1935.15 725.89L1936.59 726.12L1938.02 726.3L1939.45 726.41L1940.88 726.46L1942.31 726.45L1943.75 726.36L1945.18 726.2L1946.61 725.98L1948.04 725.69L1949.47 725.35L1950.91 724.95L1952.34 724.5L1953.77 724.01L1955.2 723.49L1956.63 722.94L1958.07 722.36L1959.5 721.77L1960.93 721.17L1962.36 720.56L1963.79 719.96L1965.23 719.37L1966.66 718.8L1968.09 718.24L1969.52 717.7L1970.95 717.19L1972.39 716.71L1973.82 716.26L1975.25 715.84L1976.68 715.45L1978.11 715.09L1979.55 714.77L1980.98 714.49L1982.41 714.25L1983.84 714.05L1985.27 713.91L1986.71 713.85L1988.14 713.86L1989.57 713.97L1991 714.19L1992.43 714.54L1993.87 715.03L1995.3 715.65L1996.73 716.38L1998.16 717.2L1999.59 718.05L2001.03 718.91L2002.46 719.7L2003.89 720.41L2005.32 721.01L2006.75 721.5L2008.19 721.91L2009.62 722.31L2011.05 722.76L2012.48 723.33L2013.91 724.08L2015.35 725.06L2016.78 726.28L2018.21 727.71L2019.64 729.31L2021.07 730.99L2022.51 732.65L2023.94 734.18L2025.37 735.47L2026.8 736.42L2028.23 736.96L2029.67 737.05L2031.1 736.66L2032.53 735.81L2033.96 734.55L2035.39 732.95L2036.83 731.08L2038.26 729.05L2039.69 726.95L2041.12 724.85L2042.55 722.84L2043.99 720.96L2045.42 719.24L2046.85 717.67L2048.28 716.23L2049.71 714.87L2051.15 713.56L2052.58 712.25L2054.01 710.98L2055.44 709.82L2056.87 708.86L2058.31 708.22L2059.74 707.99L2061.17 712.4L2062.6 712.4L2064.03 712.4L2065.47 712.4L2066.9 712.4L2068.33 712.4L2069.76 712.4L2071.19 712.4L2072.63 712.4L2074.06 712.4L2075.49 712.4L2076.92 712.4L2078.35 712.4L2079.79 712.4L2081.22 712.4L2082.65 712.4" fill="none" stroke="#7f9fc4" stroke-width="5.2" stroke-linejoin="round" opacity="0.8"/>
<path d="M1670.23 712.9L1671.67 712.9L1673.1 712.9L1674.53 712.9L1675.96 712.9L1677.39 712.9L1678.83 712.9L1680.26 712.9L1681.69 712.9L1683.12 712.9L1684.55 712.9L1685.99 712.9L1687.42 712.9L1688.85 712.9L1690.28 712.9L1691.71 712.9L1693.15 712.9L1694.58 712.9L1696.01 712.9L1697.44 714.69L1698.87 717.19L1700.31 719.73L1701.74 722.23L1703.17 724.62L1704.6 726.84L1706.03 728.87L1707.47 730.7L1708.9 732.38L1710.33 733.97L1711.76 733.95L1713.19 733.53L1714.63 733.3L1716.06 733.27L1717.49 733.43L1718.92 733.77L1720.35 734.25L1721.79 734.82L1723.22 735.42L1724.65 735.98L1726.08 736.44L1727.51 736.73L1728.95 736.8L1730.38 736.61L1731.81 736.12L1733.24 735.34L1734.67 734.27L1736.11 732.94L1737.54 731.39L1738.97 729.7L1740.4 727.93L1741.83 726.16L1743.27 724.47L1744.7 722.95L1746.13 721.66L1747.56 720.66L1748.99 719.99L1750.43 719.69L1751.86 719.74L1753.29 720.14L1754.72 720.85L1756.15 721.82L1757.59 722.98L1759.02 724.27L1760.45 725.61L1761.88 726.92L1763.31 728.14L1764.75 729.2L1766.18 730.07L1767.61 730.71L1769.04 731.12L1770.47 731.3L1771.91 731.28L1773.34 731.11L1774.77 730.83L1776.2 730.51L1777.63 730.21L1779.07 730L1780.5 729.92L1781.93 730.03L1783.36 730.36L1784.79 730.92L1786.23 731.7L1787.66 732.69L1789.09 733.84L1790.52 735.1L1791.95 736.41L1793.39 737.69L1794.82 738.86L1796.25 739.86L1797.68 740.62L1799.11 741.08L1800.55 741.2L1801.98 740.96L1803.41 740.37L1804.84 739.43L1806.27 738.19L1807.71 736.71L1809.14 735.04L1810.57 733.27L1812 731.48L1813.43 729.74L1814.87 728.14L1816.3 726.74L1817.73 725.6L1819.16 724.74L1820.59 724.18L1822.03 723.91L1823.46 723.93L1824.89 724.18L1826.32 724.62L1827.75 725.18L1829.19 725.8L1830.62 726.41L1832.05 726.93L1833.48 727.33L1834.91 727.55L1836.35 727.55L1837.78 727.33L1839.21 726.87L1840.64 726.17L1842.07 725.24L1843.51 724.08L1844.94 722.69L1846.37 721.03L1847.8 719.05L1849.23 716.66L1850.67 713.74L1852.1 709.76L1853.53 703.7L1854.96 696.27L1856.39 687.12L1857.83 675.94L1859.26 662.52L1860.69 646.74L1862.12 628.64L1863.55 610.65L1864.99 592.12L1866.42 572.92L1867.85 553.73L1869.28 535.32L1870.71 518.52L1872.15 504.14L1873.58 492.93L1875.01 485.49L1876.44 482.24L1877.87 483.37L1879.31 488.81L1880.74 498.27L1882.17 511.26L1883.6 527.1L1885.03 545.04L1886.47 564.28L1887.9 584.08L1889.33 603.78L1890.76 622.83L1892.19 640.6L1893.63 657.33L1895.06 672.67L1896.49 686.57L1897.92 699.04L1899.35 710.11L1900.79 719.77L1902.22 727.98L1903.65 734.69L1905.08 739.84L1906.51 743.38L1907.95 745.34L1909.38 745.83L1910.81 745.04L1912.24 743.24L1913.67 740.75L1915.11 737.9L1916.54 734.98L1917.97 732.26L1919.4 729.9L1920.83 728L1922.27 726.59L1923.7 725.64L1925.13 725.09L1926.56 724.86L1927.99 724.86L1929.43 725.02L1930.86 725.27L1932.29 725.56L1933.72 725.86L1935.15 726.14L1936.59 726.37L1938.02 726.55L1939.45 726.66L1940.88 726.71L1942.31 726.7L1943.75 726.61L1945.18 726.45L1946.61 726.23L1948.04 725.94L1949.47 725.6L1950.91 725.2L1952.34 724.75L1953.77 724.26L1955.2 723.74L1956.63 723.19L1958.07 722.61L1959.5 722.02L1960.93 721.42L1962.36 720.81L1963.79 720.21L1965.23 719.62L1966.66 719.05L1968.09 718.49L1969.52 717.95L1970.95 717.44L1972.39 716.96L1973.82 716.51L1975.25 716.09L1976.68 715.7L1978.11 715.34L1979.55 715.02L1980.98 714.74L1982.41 714.5L1983.84 714.3L1985.27 714.16L1986.71 714.1L1988.14 714.11L1989.57 714.22L1991 714.44L1992.43 714.79L1993.87 715.28L1995.3 715.9L1996.73 716.63L1998.16 717.45L1999.59 718.3L2001.03 719.16L2002.46 719.95L2003.89 720.66L2005.32 721.26L2006.75 721.75L2008.19 722.16L2009.62 722.56L2011.05 723.01L2012.48 723.58L2013.91 724.33L2015.35 725.31L2016.78 726.53L2018.21 727.96L2019.64 729.56L2021.07 731.24L2022.51 732.9L2023.94 734.43L2025.37 735.72L2026.8 736.67L2028.23 737.21L2029.67 737.3L2031.1 736.91L2032.53 736.06L2033.96 734.8L2035.39 733.2L2036.83 731.33L2038.26 729.3L2039.69 727.2L2041.12 725.1L2042.55 723.09L2043.99 721.21L2045.42 719.49L2046.85 717.92L2048.28 716.48L2049.71 715.12L2051.15 713.81L2052.58 712.5L2054.01 711.23L2055.44 710.07L2056.87 709.11L2058.31 708.47L2059.74 708.24L2061.17 712.65L2062.6 712.65L2064.03 712.65L2065.47 712.65L2066.9 712.65L2068.33 712.65L2069.76 712.65L2071.19 712.65L2072.63 712.65L2074.06 712.65L2075.49 712.65L2076.92 712.65L2078.35 712.65L2079.79 712.65L2081.22 712.65L2082.65 712.65" fill="none" stroke="#66b5a8" stroke-width="5.2" stroke-linejoin="round" opacity="0.8"/>
<path d="M1670.23 712.9L1671.67 712.9L1673.1 712.9L1674.53 712.9L1675.96 712.9L1677.39 712.9L1678.83 712.9L1680.26 712.9L1681.69 712.9L1683.12 712.9L1684.55 712.9L1685.99 712.9L1687.42 712.9L1688.85 712.9L1690.28 712.9L1691.71 712.9L1693.15 712.9L1694.58 712.9L1696.01 712.9L1697.44 714.36L1698.87 716.29L1700.31 718.26L1701.74 720.31L1703.17 722.46L1704.6 724.71L1706.03 727.03L1707.47 729.35L1708.9 731.61L1710.33 733.71L1711.76 733.96L1713.19 733.42L1714.63 732.61L1716.06 731.55L1717.49 730.26L1718.92 728.8L1720.35 727.22L1721.79 725.61L1723.22 724.03L1724.65 722.58L1726.08 721.31L1727.51 720.3L1728.95 719.61L1730.38 719.27L1731.81 719.29L1733.24 719.68L1734.67 720.41L1736.11 721.44L1737.54 722.72L1738.97 724.18L1740.4 725.73L1741.83 727.32L1743.27 728.84L1744.7 730.24L1746.13 731.46L1747.56 732.45L1748.99 733.19L1750.43 733.66L1751.86 733.88L1753.29 733.88L1754.72 733.69L1756.15 733.37L1757.59 732.99L1759.02 732.61L1760.45 732.29L1761.88 732.09L1763.31 732.06L1764.75 732.22L1766.18 732.59L1767.61 733.16L1769.04 733.92L1770.47 734.82L1771.91 735.82L1773.34 736.84L1774.77 737.82L1776.2 738.69L1777.63 739.38L1779.07 739.82L1780.5 739.97L1781.93 739.79L1783.36 739.27L1784.79 738.42L1786.23 737.25L1787.66 735.8L1789.09 734.15L1790.52 732.35L1791.95 730.49L1793.39 728.64L1794.82 726.9L1796.25 725.34L1797.68 724.01L1799.11 722.98L1800.55 722.26L1801.98 721.87L1803.41 721.81L1804.84 722.04L1806.27 722.53L1807.71 723.22L1809.14 724.04L1810.57 724.92L1812 725.8L1813.43 726.6L1814.87 727.28L1816.3 727.79L1817.73 728.1L1819.16 728.22L1820.59 728.13L1822.03 727.88L1823.46 727.51L1824.89 727.06L1826.32 726.6L1827.75 726.2L1829.19 725.92L1830.62 725.82L1832.05 725.93L1833.48 726.31L1834.91 726.94L1836.35 727.83L1837.78 728.94L1839.21 730.22L1840.64 731.58L1842.07 732.91L1843.51 734.1L1844.94 734.98L1846.37 735.38L1847.8 735.1L1849.23 733.95L1850.67 731.68L1852.1 727.11L1853.53 718.1L1854.96 707.43L1856.39 695.04L1857.83 680.93L1859.26 665.1L1860.69 647.64L1862.12 628.71L1863.55 610.65L1864.99 592.12L1866.42 572.92L1867.85 553.73L1869.28 535.32L1870.71 518.52L1872.15 504.14L1873.58 492.93L1875.01 485.49L1876.44 482.24L1877.87 483.37L1879.31 488.81L1880.74 498.27L1882.17 511.26L1883.6 527.1L1885.03 545.04L1886.47 564.28L1887.9 584.08L1889.33 603.78L1890.76 622.83L1892.19 640.85L1893.63 657.58L1895.06 672.92L1896.49 686.82L1897.92 699.29L1899.35 710.36L1900.79 720.02L1902.22 728.23L1903.65 734.94L1905.08 740.09L1906.51 743.63L1907.95 745.59L1909.38 746.08L1910.81 745.29L1912.24 743.49L1913.67 741L1915.11 738.15L1916.54 735.23L1917.97 732.51L1919.4 730.15L1920.83 728.25L1922.27 726.84L1923.7 725.89L1925.13 725.34L1926.56 725.11L1927.99 725.11L1929.43 725.27L1930.86 725.52L1932.29 725.81L1933.72 726.11L1935.15 726.39L1936.59 726.62L1938.02 726.8L1939.45 726.91L1940.88 726.96L1942.31 726.95L1943.75 726.86L1945.18 726.7L1946.61 726.48L1948.04 726.19L1949.47 725.85L1950.91 725.45L1952.34 725L1953.77 724.51L1955.2 723.99L1956.63 723.44L1958.07 722.86L1959.5 722.27L1960.93 721.67L1962.36 721.06L1963.79 720.46L1965.23 719.87L1966.66 719.3L1968.09 718.74L1969.52 718.2L1970.95 717.69L1972.39 717.21L1973.82 716.76L1975.25 716.34L1976.68 715.95L1978.11 715.59L1979.55 715.27L1980.98 714.99L1982.41 714.75L1983.84 714.55L1985.27 714.41L1986.71 714.35L1988.14 714.36L1989.57 714.47L1991 714.69L1992.43 715.04L1993.87 715.53L1995.3 716.15L1996.73 716.88L1998.16 717.7L1999.59 718.55L2001.03 719.41L2002.46 720.2L2003.89 720.91L2005.32 721.51L2006.75 722L2008.19 722.41L2009.62 722.81L2011.05 723.26L2012.48 723.83L2013.91 724.58L2015.35 725.56L2016.78 726.78L2018.21 728.21L2019.64 729.81L2021.07 731.49L2022.51 733.15L2023.94 734.68L2025.37 735.97L2026.8 736.92L2028.23 737.46L2029.67 737.55L2031.1 737.16L2032.53 736.31L2033.96 735.05L2035.39 733.45L2036.83 731.58L2038.26 729.55L2039.69 727.45L2041.12 725.35L2042.55 723.34L2043.99 721.46L2045.42 719.74L2046.85 718.17L2048.28 716.73L2049.71 715.37L2051.15 714.06L2052.58 712.75L2054.01 711.48L2055.44 710.32L2056.87 709.36L2058.31 708.72L2059.74 708.49L2061.17 712.9L2062.6 712.9L2064.03 712.9L2065.47 712.9L2066.9 712.9L2068.33 712.9L2069.76 712.9L2071.19 712.9L2072.63 712.9L2074.06 712.9L2075.49 712.9L2076.92 712.9L2078.35 712.9L2079.79 712.9L2081.22 712.9L2082.65 712.9" fill="none" stroke="#8fd0a0" stroke-width="5.2" stroke-linejoin="round" opacity="0.8"/>
<path d="M1670.23 712.9L1671.67 712.9L1673.1 712.9L1674.53 712.9L1675.96 712.9L1677.39 712.9L1678.83 712.9L1680.26 712.9L1681.69 712.9L1683.12 712.9L1684.55 712.9L1685.99 712.9L1687.42 712.9L1688.85 712.9L1690.28 712.9L1691.71 712.9L1693.15 712.9L1694.58 712.9L1696.01 712.9L1697.44 714.68L1698.87 717.23L1700.31 719.97L1701.74 722.83L1703.17 725.74L1704.6 728.6L1706.03 731.29L1707.47 733.7L1708.9 735.73L1710.33 737.3L1711.76 736.56L1713.19 734.97L1714.63 733.21L1716.06 731.36L1717.49 729.51L1718.92 727.74L1720.35 726.12L1721.79 724.71L1723.22 723.59L1724.65 722.77L1726.08 722.27L1727.51 722.1L1728.95 722.24L1730.38 722.63L1731.81 723.23L1733.24 723.99L1734.67 724.82L1736.11 725.65L1737.54 726.43L1738.97 727.1L1740.4 727.6L1741.83 727.92L1743.27 728.03L1744.7 727.95L1746.13 727.7L1747.56 727.31L1748.99 726.84L1750.43 726.36L1751.86 725.91L1753.29 725.58L1754.72 725.42L1756.15 725.48L1757.59 725.79L1759.02 726.39L1760.45 727.27L1761.88 728.42L1763.31 729.79L1764.75 731.35L1766.18 733.01L1767.61 734.72L1769.04 736.38L1770.47 737.92L1771.91 739.27L1773.34 740.35L1774.77 741.12L1776.2 741.54L1777.63 741.59L1779.07 741.28L1780.5 740.63L1781.93 739.68L1783.36 738.5L1784.79 737.14L1786.23 735.69L1787.66 734.23L1789.09 732.82L1790.52 731.53L1791.95 730.42L1793.39 729.54L1794.82 728.9L1796.25 728.5L1797.68 728.34L1799.11 728.39L1800.55 728.59L1801.98 728.89L1803.41 729.23L1804.84 729.54L1806.27 729.77L1807.71 729.86L1809.14 729.76L1810.57 729.46L1812 728.94L1813.43 728.2L1814.87 727.28L1816.3 726.22L1817.73 725.08L1819.16 723.91L1820.59 722.81L1822.03 721.83L1823.46 721.04L1824.89 720.52L1826.32 720.31L1827.75 720.43L1829.19 720.9L1830.62 721.72L1832.05 722.85L1833.48 724.25L1834.91 725.86L1836.35 727.58L1837.78 729.34L1839.21 731.03L1840.64 732.54L1842.07 733.77L1843.51 734.59L1844.94 734.9L1846.37 734.56L1847.8 733.44L1849.23 731.42L1850.67 728.32L1852.1 723.19L1853.53 714.29L1854.96 704.04L1856.39 692.31L1857.83 678.98L1859.26 663.94L1860.69 647.15L1862.12 628.65L1863.55 610.65L1864.99 592.12L1866.42 572.92L1867.85 553.73L1869.28 535.32L1870.71 518.52L1872.15 504.14L1873.58 492.93L1875.01 485.49L1876.44 482.24L1877.87 483.37L1879.31 488.81L1880.74 498.27L1882.17 511.26L1883.6 527.1L1885.03 545.04L1886.47 564.28L1887.9 584.08L1889.33 603.78L1890.76 622.83L1892.19 641.1L1893.63 657.83L1895.06 673.17L1896.49 687.07L1897.92 699.54L1899.35 710.61L1900.79 720.27L1902.22 728.48L1903.65 735.19L1905.08 740.34L1906.51 743.88L1907.95 745.84L1909.38 746.33L1910.81 745.54L1912.24 743.74L1913.67 741.25L1915.11 738.4L1916.54 735.48L1917.97 732.76L1919.4 730.4L1920.83 728.5L1922.27 727.09L1923.7 726.14L1925.13 725.59L1926.56 725.36L1927.99 725.36L1929.43 725.52L1930.86 725.77L1932.29 726.06L1933.72 726.36L1935.15 726.64L1936.59 726.87L1938.02 727.05L1939.45 727.16L1940.88 727.21L1942.31 727.2L1943.75 727.11L1945.18 726.95L1946.61 726.73L1948.04 726.44L1949.47 726.1L1950.91 725.7L1952.34 725.25L1953.77 724.76L1955.2 724.24L1956.63 723.69L1958.07 723.11L1959.5 722.52L1960.93 721.92L1962.36 721.31L1963.79 720.71L1965.23 720.12L1966.66 719.55L1968.09 718.99L1969.52 718.45L1970.95 717.94L1972.39 717.46L1973.82 717.01L1975.25 716.59L1976.68 716.2L1978.11 715.84L1979.55 715.52L1980.98 715.24L1982.41 715L1983.84 714.8L1985.27 714.66L1986.71 714.6L1988.14 714.61L1989.57 714.72L1991 714.94L1992.43 715.29L1993.87 715.78L1995.3 716.4L1996.73 717.13L1998.16 717.95L1999.59 718.8L2001.03 719.66L2002.46 720.45L2003.89 721.16L2005.32 721.76L2006.75 722.25L2008.19 722.66L2009.62 723.06L2011.05 723.51L2012.48 724.08L2013.91 724.83L2015.35 725.81L2016.78 727.03L2018.21 728.46L2019.64 730.06L2021.07 731.74L2022.51 733.4L2023.94 734.93L2025.37 736.22L2026.8 737.17L2028.23 737.71L2029.67 737.8L2031.1 737.41L2032.53 736.56L2033.96 735.3L2035.39 733.7L2036.83 731.83L2038.26 729.8L2039.69 727.7L2041.12 725.6L2042.55 723.59L2043.99 721.71L2045.42 719.99L2046.85 718.42L2048.28 716.98L2049.71 715.62L2051.15 714.31L2052.58 713L2054.01 711.73L2055.44 710.57L2056.87 709.61L2058.31 708.97L2059.74 708.74L2061.17 713.15L2062.6 713.15L2064.03 713.15L2065.47 713.15L2066.9 713.15L2068.33 713.15L2069.76 713.15L2071.19 713.15L2072.63 713.15L2074.06 713.15L2075.49 713.15L2076.92 713.15L2078.35 713.15L2079.79 713.15L2081.22 713.15L2082.65 713.15" fill="none" stroke="#e6e67a" stroke-width="5.2" stroke-linejoin="round" opacity="0.8"/>
<path d="M1670.23 712.9L1671.67 712.9L1673.1 712.9L1674.53 712.9L1675.96 712.9L1677.39 712.9L1678.83 712.9L1680.26 712.9L1681.69 712.9L1683.12 712.9L1684.55 712.9L1685.99 712.9L1687.42 712.9L1688.85 712.9L1690.28 712.9L1691.71 712.9L1693.15 712.9L1694.58 712.9L1696.01 712.9L1697.44 714.86L1698.87 717.32L1700.31 719.57L1701.74 721.59L1703.17 723.41L1704.6 725.05L1706.03 726.58L1707.47 728.08L1708.9 729.63L1710.33 731.29L1711.76 731.7L1713.19 731.82L1714.63 732.08L1716.06 732.42L1717.49 732.79L1718.92 733.11L1720.35 733.33L1721.79 733.39L1723.22 733.24L1724.65 732.84L1726.08 732.19L1727.51 731.29L1728.95 730.16L1730.38 728.83L1731.81 727.37L1733.24 725.84L1734.67 724.31L1736.11 722.87L1737.54 721.59L1738.97 720.53L1740.4 719.77L1741.83 719.34L1743.27 719.27L1744.7 719.58L1746.13 720.23L1747.56 721.21L1748.99 722.46L1750.43 723.92L1751.86 725.52L1753.29 727.17L1754.72 728.8L1756.15 730.32L1757.59 731.69L1759.02 732.84L1760.45 733.73L1761.88 734.35L1763.31 734.7L1764.75 734.8L1766.18 734.68L1767.61 734.4L1769.04 734L1770.47 733.57L1771.91 733.15L1773.34 732.82L1774.77 732.62L1776.2 732.59L1777.63 732.77L1779.07 733.15L1780.5 733.72L1781.93 734.46L1783.36 735.31L1784.79 736.23L1786.23 737.15L1787.66 737.99L1789.09 738.68L1790.52 739.17L1791.95 739.39L1793.39 739.31L1794.82 738.89L1796.25 738.15L1797.68 737.08L1799.11 735.73L1800.55 734.14L1801.98 732.39L1803.41 730.54L1804.84 728.68L1806.27 726.89L1807.71 725.25L1809.14 723.82L1810.57 722.68L1812 721.85L1813.43 721.35L1814.87 721.19L1816.3 721.36L1817.73 721.81L1819.16 722.49L1820.59 723.34L1822.03 724.3L1823.46 725.29L1824.89 726.23L1826.32 727.08L1827.75 727.78L1829.19 728.29L1830.62 728.59L1832.05 728.68L1833.48 728.57L1834.91 728.3L1836.35 727.89L1837.78 727.41L1839.21 726.89L1840.64 726.37L1842.07 725.88L1843.51 725.41L1844.94 724.94L1846.37 724.39L1847.8 723.66L1849.23 722.57L1850.67 720.92L1852.1 717.83L1853.53 711.47L1854.96 703.3L1856.39 693.03L1857.83 680.48L1859.26 665.56L1860.69 648.3L1862.12 628.92L1863.55 610.65L1864.99 592.12L1866.42 572.92L1867.85 553.73L1869.28 535.32L1870.71 518.52L1872.15 504.14L1873.58 492.93L1875.01 485.49L1876.44 482.24L1877.87 483.37L1879.31 488.81L1880.74 498.27L1882.17 511.26L1883.6 527.1L1885.03 545.04L1886.47 564.28L1887.9 584.08L1889.33 603.78L1890.76 622.83L1892.19 641.35L1893.63 658.08L1895.06 673.42L1896.49 687.32L1897.92 699.79L1899.35 710.86L1900.79 720.52L1902.22 728.73L1903.65 735.44L1905.08 740.59L1906.51 744.13L1907.95 746.09L1909.38 746.58L1910.81 745.79L1912.24 743.99L1913.67 741.5L1915.11 738.65L1916.54 735.73L1917.97 733.01L1919.4 730.65L1920.83 728.75L1922.27 727.34L1923.7 726.39L1925.13 725.84L1926.56 725.61L1927.99 725.61L1929.43 725.77L1930.86 726.02L1932.29 726.31L1933.72 726.61L1935.15 726.89L1936.59 727.12L1938.02 727.3L1939.45 727.41L1940.88 727.46L1942.31 727.45L1943.75 727.36L1945.18 727.2L1946.61 726.98L1948.04 726.69L1949.47 726.35L1950.91 725.95L1952.34 725.5L1953.77 725.01L1955.2 724.49L1956.63 723.94L1958.07 723.36L1959.5 722.77L1960.93 722.17L1962.36 721.56L1963.79 720.96L1965.23 720.37L1966.66 719.8L1968.09 719.24L1969.52 718.7L1970.95 718.19L1972.39 717.71L1973.82 717.26L1975.25 716.84L1976.68 716.45L1978.11 716.09L1979.55 715.77L1980.98 715.49L1982.41 715.25L1983.84 715.05L1985.27 714.91L1986.71 714.85L1988.14 714.86L1989.57 714.97L1991 715.19L1992.43 715.54L1993.87 716.03L1995.3 716.65L1996.73 717.38L1998.16 718.2L1999.59 719.05L2001.03 719.91L2002.46 720.7L2003.89 721.41L2005.32 722.01L2006.75 722.5L2008.19 722.91L2009.62 723.31L2011.05 723.76L2012.48 724.33L2013.91 725.08L2015.35 726.06L2016.78 727.28L2018.21 728.71L2019.64 730.31L2021.07 731.99L2022.51 733.65L2023.94 735.18L2025.37 736.47L2026.8 737.42L2028.23 737.96L2029.67 738.05L2031.1 737.66L2032.53 736.81L2033.96 735.55L2035.39 733.95L2036.83 732.08L2038.26 730.05L2039.69 727.95L2041.12 725.85L2042.55 723.84L2043.99 721.96L2045.42 720.24L2046.85 718.67L2048.28 717.23L2049.71 715.87L2051.15 714.56L2052.58 713.25L2054.01 711.98L2055.44 710.82L2056.87 709.86L2058.31 709.22L2059.74 708.99L2061.17 713.4L2062.6 713.4L2064.03 713.4L2065.47 713.4L2066.9 713.4L2068.33 713.4L2069.76 713.4L2071.19 713.4L2072.63 713.4L2074.06 713.4L2075.49 713.4L2076.92 713.4L2078.35 713.4L2079.79 713.4L2081.22 713.4L2082.65 713.4" fill="none" stroke="#c8a6c0" stroke-width="5.2" stroke-linejoin="round" opacity="0.8"/>
<path d="M1670.23 712.9L1671.67 712.9L1673.1 712.9L1674.53 712.9L1675.96 712.9L1677.39 712.9L1678.83 712.9L1680.26 712.9L1681.69 712.9L1683.12 712.9L1684.55 712.9L1685.99 712.9L1687.42 712.9L1688.85 712.9L1690.28 712.9L1691.71 712.9L1693.15 712.9L1694.58 712.9L1696.01 712.9L1697.44 713.58L1698.87 714.34L1700.31 715.02L1701.74 715.71L1703.17 716.51L1704.6 717.55L1706.03 718.91L1707.47 720.68L1708.9 722.92L1710.33 725.65L1711.76 727.76L1713.19 729.6L1714.63 731.43L1716.06 733.15L1717.49 734.71L1718.92 736.04L1720.35 737.08L1721.79 737.82L1723.22 738.23L1724.65 738.33L1726.08 738.16L1727.51 737.74L1728.95 737.13L1730.38 736.41L1731.81 735.64L1733.24 734.89L1734.67 734.22L1736.11 733.68L1737.54 733.32L1738.97 733.15L1740.4 733.18L1741.83 733.4L1743.27 733.77L1744.7 734.25L1746.13 734.79L1747.56 735.32L1748.99 735.77L1750.43 736.08L1751.86 736.2L1753.29 736.07L1754.72 735.66L1756.15 734.96L1757.59 733.98L1759.02 732.73L1760.45 731.26L1761.88 729.63L1763.31 727.91L1764.75 726.16L1766.18 724.48L1767.61 722.95L1769.04 721.63L1770.47 720.59L1771.91 719.88L1773.34 719.52L1774.77 719.53L1776.2 719.9L1777.63 720.58L1779.07 721.55L1780.5 722.73L1781.93 724.06L1783.36 725.46L1784.79 726.85L1786.23 728.16L1787.66 729.34L1789.09 730.32L1790.52 731.08L1791.95 731.6L1793.39 731.88L1794.82 731.95L1796.25 731.84L1797.68 731.59L1799.11 731.28L1800.55 730.96L1801.98 730.69L1803.41 730.54L1804.84 730.55L1806.27 730.77L1807.71 731.21L1809.14 731.87L1810.57 732.73L1812 733.78L1813.43 734.94L1814.87 736.18L1816.3 737.4L1817.73 738.55L1819.16 739.54L1820.59 740.3L1822.03 740.79L1823.46 740.96L1824.89 740.77L1826.32 740.22L1827.75 739.33L1829.19 738.13L1830.62 736.67L1832.05 735L1833.48 733.2L1834.91 731.35L1836.35 729.52L1837.78 727.78L1839.21 726.18L1840.64 724.74L1842.07 723.48L1843.51 722.35L1844.94 721.29L1846.37 720.2L1847.8 718.9L1849.23 717.21L1850.67 714.88L1852.1 711.24L1853.53 705.06L1854.96 697.23L1856.39 687.53L1857.83 675.8L1859.26 661.99L1860.69 646.15L1862.12 628.45L1863.55 610.65L1864.99 592.12L1866.42 572.92L1867.85 553.73L1869.28 535.32L1870.71 518.52L1872.15 504.14L1873.58 492.93L1875.01 485.49L1876.44 482.24L1877.87 483.37L1879.31 488.81L1880.74 498.27L1882.17 511.26L1883.6 527.1L1885.03 545.04L1886.47 564.28L1887.9 584.08L1889.33 603.78L1890.76 622.83L1892.19 641.6L1893.63 658.33L1895.06 673.67L1896.49 687.57L1897.92 700.04L1899.35 711.11L1900.79 720.77L1902.22 728.98L1903.65 735.69L1905.08 740.84L1906.51 744.38L1907.95 746.34L1909.38 746.83L1910.81 746.04L1912.24 744.24L1913.67 741.75L1915.11 738.9L1916.54 735.98L1917.97 733.26L1919.4 730.9L1920.83 729L1922.27 727.59L1923.7 726.64L1925.13 726.09L1926.56 725.86L1927.99 725.86L1929.43 726.02L1930.86 726.27L1932.29 726.56L1933.72 726.86L1935.15 727.14L1936.59 727.37L1938.02 727.55L1939.45 727.66L1940.88 727.71L1942.31 727.7L1943.75 727.61L1945.18 727.45L1946.61 727.23L1948.04 726.94L1949.47 726.6L1950.91 726.2L1952.34 725.75L1953.77 725.26L1955.2 724.74L1956.63 724.19L1958.07 723.61L1959.5 723.02L1960.93 722.42L1962.36 721.81L1963.79 721.21L1965.23 720.62L1966.66 720.05L1968.09 719.49L1969.52 718.95L1970.95 718.44L1972.39 717.96L1973.82 717.51L1975.25 717.09L1976.68 716.7L1978.11 716.34L1979.55 716.02L1980.98 715.74L1982.41 715.5L1983.84 715.3L1985.27 715.16L1986.71 715.1L1988.14 715.11L1989.57 715.22L1991 715.44L1992.43 715.79L1993.87 716.28L1995.3 716.9L1996.73 717.63L1998.16 718.45L1999.59 719.3L2001.03 720.16L2002.46 720.95L2003.89 721.66L2005.32 722.26L2006.75 722.75L2008.19 723.16L2009.62 723.56L2011.05 724.01L2012.48 724.58L2013.91 725.33L2015.35 726.31L2016.78 727.53L2018.21 728.96L2019.64 730.56L2021.07 732.24L2022.51 733.9L2023.94 735.43L2025.37 736.72L2026.8 737.67L2028.23 738.21L2029.67 738.3L2031.1 737.91L2032.53 737.06L2033.96 735.8L2035.39 734.2L2036.83 732.33L2038.26 730.3L2039.69 728.2L2041.12 726.1L2042.55 724.09L2043.99 722.21L2045.42 720.49L2046.85 718.92L2048.28 717.48L2049.71 716.12L2051.15 714.81L2052.58 713.5L2054.01 712.23L2055.44 711.07L2056.87 710.11L2058.31 709.47L2059.74 709.24L2061.17 713.65L2062.6 713.65L2064.03 713.65L2065.47 713.65L2066.9 713.65L2068.33 713.65L2069.76 713.65L2071.19 713.65L2072.63 713.65L2074.06 713.65L2075.49 713.65L2076.92 713.65L2078.35 713.65L2079.79 713.65L2081.22 713.65L2082.65 713.65" fill="none" stroke="#56b89a" stroke-width="5.2" stroke-linejoin="round" opacity="0.8"/>
<path d="M1670.23 712.9L1671.67 712.9L1673.1 712.9L1674.53 712.9L1675.96 712.9L1677.39 712.9L1678.83 712.9L1680.26 712.9L1681.69 712.9L1683.12 712.9L1684.55 712.9L1685.99 712.9L1687.42 712.9L1688.85 712.9L1690.28 712.9L1691.71 712.9L1693.15 712.9L1694.58 712.9L1696.01 712.9L1697.44 713.59L1698.87 714.76L1700.31 716.27L1701.74 718.13L1703.17 720.35L1704.6 722.88L1706.03 725.65L1707.47 728.58L1708.9 731.56L1710.33 734.5L1711.76 735.59L1713.19 735.85L1714.63 735.85L1716.06 735.63L1717.49 735.25L1718.92 734.77L1720.35 734.26L1721.79 733.77L1723.22 733.38L1724.65 733.12L1726.08 733.04L1727.51 733.16L1728.95 733.48L1730.38 733.98L1731.81 734.64L1733.24 735.4L1734.67 736.21L1736.11 736.99L1737.54 737.68L1738.97 738.22L1740.4 738.54L1741.83 738.59L1743.27 738.33L1744.7 737.75L1746.13 736.85L1747.56 735.66L1748.99 734.2L1750.43 732.54L1751.86 730.74L1753.29 728.89L1754.72 727.06L1756.15 725.34L1757.59 723.81L1759.02 722.52L1760.45 721.54L1761.88 720.88L1763.31 720.58L1764.75 720.62L1766.18 720.98L1767.61 721.62L1769.04 722.47L1770.47 723.48L1771.91 724.58L1773.34 725.68L1774.77 726.73L1776.2 727.66L1777.63 728.42L1779.07 728.97L1780.5 729.32L1781.93 729.45L1783.36 729.4L1784.79 729.19L1786.23 728.88L1787.66 728.52L1789.09 728.19L1790.52 727.94L1791.95 727.83L1793.39 727.92L1794.82 728.23L1796.25 728.8L1797.68 729.62L1799.11 730.67L1800.55 731.93L1801.98 733.34L1803.41 734.84L1804.84 736.35L1806.27 737.8L1807.71 739.11L1809.14 740.21L1810.57 741.04L1812 741.53L1813.43 741.68L1814.87 741.45L1816.3 740.87L1817.73 739.95L1819.16 738.75L1820.59 737.32L1822.03 735.73L1823.46 734.07L1824.89 732.41L1826.32 730.83L1827.75 729.4L1829.19 728.17L1830.62 727.19L1832.05 726.48L1833.48 726.03L1834.91 725.84L1836.35 725.86L1837.78 726.03L1839.21 726.28L1840.64 726.52L1842.07 726.65L1843.51 726.54L1844.94 726.07L1846.37 725.11L1847.8 723.5L1849.23 721.08L1850.67 717.68L1852.1 712.66L1853.53 705.05L1854.96 696.16L1856.39 685.85L1857.83 673.99L1859.26 660.46L1860.69 645.21L1862.12 628.27L1863.55 610.65L1864.99 592.12L1866.42 572.92L1867.85 553.73L1869.28 535.32L1870.71 518.52L1872.15 504.14L1873.58 492.93L1875.01 485.49L1876.44 482.24L1877.87 483.37L1879.31 488.81L1880.74 498.27L1882.17 511.26L1883.6 527.1L1885.03 545.04L1886.47 564.28L1887.9 584.08L1889.33 603.78L1890.76 622.83L1892.19 641.85L1893.63 658.58L1895.06 673.92L1896.49 687.82L1897.92 700.29L1899.35 711.36L1900.79 721.02L1902.22 729.23L1903.65 735.94L1905.08 741.09L1906.51 744.63L1907.95 746.59L1909.38 747.08L1910.81 746.29L1912.24 744.49L1913.67 742L1915.11 739.15L1916.54 736.23L1917.97 733.51L1919.4 731.15L1920.83 729.25L1922.27 727.84L1923.7 726.89L1925.13 726.34L1926.56 726.11L1927.99 726.11L1929.43 726.27L1930.86 726.52L1932.29 726.81L1933.72 727.11L1935.15 727.39L1936.59 727.62L1938.02 727.8L1939.45 727.91L1940.88 727.96L1942.31 727.95L1943.75 727.86L1945.18 727.7L1946.61 727.48L1948.04 727.19L1949.47 726.85L1950.91 726.45L1952.34 726L1953.77 725.51L1955.2 724.99L1956.63 724.44L1958.07 723.86L1959.5 723.27L1960.93 722.67L1962.36 722.06L1963.79 721.46L1965.23 720.87L1966.66 720.3L1968.09 719.74L1969.52 719.2L1970.95 718.69L1972.39 718.21L1973.82 717.76L1975.25 717.34L1976.68 716.95L1978.11 716.59L1979.55 716.27L1980.98 715.99L1982.41 715.75L1983.84 715.55L1985.27 715.41L1986.71 715.35L1988.14 715.36L1989.57 715.47L1991 715.69L1992.43 716.04L1993.87 716.53L1995.3 717.15L1996.73 717.88L1998.16 718.7L1999.59 719.55L2001.03 720.41L2002.46 721.2L2003.89 721.91L2005.32 722.51L2006.75 723L2008.19 723.41L2009.62 723.81L2011.05 724.26L2012.48 724.83L2013.91 725.58L2015.35 726.56L2016.78 727.78L2018.21 729.21L2019.64 730.81L2021.07 732.49L2022.51 734.15L2023.94 735.68L2025.37 736.97L2026.8 737.92L2028.23 738.46L2029.67 738.55L2031.1 738.16L2032.53 737.31L2033.96 736.05L2035.39 734.45L2036.83 732.58L2038.26 730.55L2039.69 728.45L2041.12 726.35L2042.55 724.34L2043.99 722.46L2045.42 720.74L2046.85 719.17L2048.28 717.73L2049.71 716.37L2051.15 715.06L2052.58 713.75L2054.01 712.48L2055.44 711.32L2056.87 710.36L2058.31 709.72L2059.74 709.49L2061.17 713.9L2062.6 713.9L2064.03 713.9L2065.47 713.9L2066.9 713.9L2068.33 713.9L2069.76 713.9L2071.19 713.9L2072.63 713.9L2074.06 713.9L2075.49 713.9L2076.92 713.9L2078.35 713.9L2079.79 713.9L2081.22 713.9L2082.65 713.9" fill="none" stroke="#a0c758" stroke-width="5.2" stroke-linejoin="round" opacity="0.8"/>
<rect x="1652.4" y="464.7" width="449" height="295.6" fill="none" stroke="#231f20" stroke-width="4.3"/>
<line x1="1734.1" y1="760.3" x2="1734.1" y2="751.9" stroke="#231f20" stroke-width="4.3" />
<line x1="1734.1" y1="464.7" x2="1734.1" y2="473.1" stroke="#231f20" stroke-width="4.3" />
<line x1="1876.8" y1="760.3" x2="1876.8" y2="751.9" stroke="#231f20" stroke-width="4.3" />
<line x1="1876.8" y1="464.7" x2="1876.8" y2="473.1" stroke="#231f20" stroke-width="4.3" />
<line x1="2020" y1="760.3" x2="2020" y2="751.9" stroke="#231f20" stroke-width="4.3" />
<line x1="2020" y1="464.7" x2="2020" y2="473.1" stroke="#231f20" stroke-width="4.3" />
<line x1="1652.4" y1="478.4" x2="1660.8" y2="478.4" stroke="#231f20" stroke-width="4.3" />
<line x1="2101.4" y1="478.4" x2="2093" y2="478.4" stroke="#231f20" stroke-width="4.3" />
<line x1="1652.4" y1="595.4" x2="1660.8" y2="595.4" stroke="#231f20" stroke-width="4.3" />
<line x1="2101.4" y1="595.4" x2="2093" y2="595.4" stroke="#231f20" stroke-width="4.3" />
<line x1="1652.4" y1="712.9" x2="1660.8" y2="712.9" stroke="#231f20" stroke-width="4.3" />
<line x1="2101.4" y1="712.9" x2="2093" y2="712.9" stroke="#231f20" stroke-width="4.3" />
<text x="1512" y="469.6" font-size="34.8" text-anchor="start" font-weight="bold" font-style="normal" >f</text>
<text x="1641" y="489.9" font-size="29.2" text-anchor="end" font-weight="normal" font-style="normal" >1</text>
<text x="1641" y="603.2" font-size="29.2" text-anchor="end" font-weight="normal" font-style="normal" >0.5</text>
<text x="1641" y="720.6" font-size="29.2" text-anchor="end" font-weight="normal" font-style="normal" >0</text>
<text x="1734.1" y="798" font-size="29.2" text-anchor="middle" font-weight="normal" font-style="normal" >−20</text>
<text x="1876.8" y="798" font-size="29.2" text-anchor="middle" font-weight="normal" font-style="normal" >0</text>
<text x="2020" y="798" font-size="29.2" text-anchor="middle" font-weight="normal" font-style="normal" >20</text>
<text x="1876.6" y="842.6" font-size="29.2" text-anchor="middle" font-weight="normal" font-style="normal" >delay (s)</text>
<text x="1548.5" y="612" font-size="29.2" text-anchor="middle" font-weight="normal" font-style="normal" transform="rotate(-90 1548.5 612)" >correlation</text>
<circle cx="1724.1" cy="1077.6" r="8.8" fill="#1f77b6"/>
<circle cx="1775.1" cy="1080" r="8.8" fill="#1f77b6"/>
<circle cx="1826.1" cy="1080" r="8.8" fill="#1f77b6"/>
<circle cx="1877" cy="1076.3" r="8.8" fill="#1f77b6"/>
<circle cx="1927.9" cy="1080.4" r="8.8" fill="#1f77b6"/>
<circle cx="1978.9" cy="1074" r="8.8" fill="#1f77b6"/>
<circle cx="2029.8" cy="1068.7" r="8.8" fill="#1f77b6"/>
<circle cx="2080.8" cy="1075.9" r="8.8" fill="#1f77b6"/>
<line x1="1672.9" y1="1077.6" x2="2104" y2="1077.6" stroke="#231f20" stroke-width="4.4" stroke-dasharray="15.4 6.67"/>
<rect x="1652.8" y="930.2" width="448.6" height="295" fill="none" stroke="#231f20" stroke-width="4.3"/>
<line x1="1672.9" y1="1225.2" x2="1672.9" y2="1216.8" stroke="#231f20" stroke-width="4.3" />
<line x1="1672.9" y1="930.2" x2="1672.9" y2="938.6" stroke="#231f20" stroke-width="4.3" />
<line x1="1800.5" y1="1225.2" x2="1800.5" y2="1216.8" stroke="#231f20" stroke-width="4.3" />
<line x1="1800.5" y1="930.2" x2="1800.5" y2="938.6" stroke="#231f20" stroke-width="4.3" />
<line x1="1928.1" y1="1225.2" x2="1928.1" y2="1216.8" stroke="#231f20" stroke-width="4.3" />
<line x1="1928.1" y1="930.2" x2="1928.1" y2="938.6" stroke="#231f20" stroke-width="4.3" />
<line x1="2055.7" y1="1225.2" x2="2055.7" y2="1216.8" stroke="#231f20" stroke-width="4.3" />
<line x1="2055.7" y1="930.2" x2="2055.7" y2="938.6" stroke="#231f20" stroke-width="4.3" />
<line x1="1652.8" y1="1003.5" x2="1661.2" y2="1003.5" stroke="#231f20" stroke-width="4.3" />
<line x1="2101.4" y1="1003.5" x2="2093" y2="1003.5" stroke="#231f20" stroke-width="4.3" />
<line x1="1652.8" y1="1077.5" x2="1661.2" y2="1077.5" stroke="#231f20" stroke-width="4.3" />
<line x1="2101.4" y1="1077.5" x2="2093" y2="1077.5" stroke="#231f20" stroke-width="4.3" />
<line x1="1652.8" y1="1151" x2="1661.2" y2="1151" stroke="#231f20" stroke-width="4.3" />
<line x1="2101.4" y1="1151" x2="2093" y2="1151" stroke="#231f20" stroke-width="4.3" />
<text x="1510.5" y="931.2" font-size="34.8" text-anchor="start" font-weight="bold" font-style="normal" >g</text>
<text x="1640.2" y="937.5" font-size="29.2" text-anchor="end" font-weight="normal" font-style="normal" >10</text>
<text x="1640.2" y="1011.1" font-size="29.2" text-anchor="end" font-weight="normal" font-style="normal" >5</text>
<text x="1640.2" y="1085.1" font-size="29.2" text-anchor="end" font-weight="normal" font-style="normal" >0</text>
<text x="1640.2" y="1158.6" font-size="29.2" text-anchor="end" font-weight="normal" font-style="normal" >−5</text>
<text x="1640.2" y="1232.6" font-size="29.2" text-anchor="end" font-weight="normal" font-style="normal" >−10</text>
<text x="1672.9" y="1258" font-size="29.2" text-anchor="middle" font-weight="normal" font-style="normal" >0</text>
<text x="1800.5" y="1258" font-size="29.2" text-anchor="middle" font-weight="normal" font-style="normal" >500</text>
<text x="1928.1" y="1258" font-size="29.2" text-anchor="middle" font-weight="normal" font-style="normal" >1000</text>
<text x="2055.7" y="1258" font-size="29.2" text-anchor="middle" font-weight="normal" font-style="normal" >1500</text>
<text x="1873" y="1293" font-size="29.2" text-anchor="middle" font-weight="normal" font-style="normal" >distance</text>
<text x="1548.8" y="1078.4" font-size="29.2" text-anchor="middle" font-weight="normal" font-style="normal" transform="rotate(-90 1548.8 1078.4)" >Δ<tspan font-style="italic">t</tspan> (s)</text>
</svg>
</body></html>
